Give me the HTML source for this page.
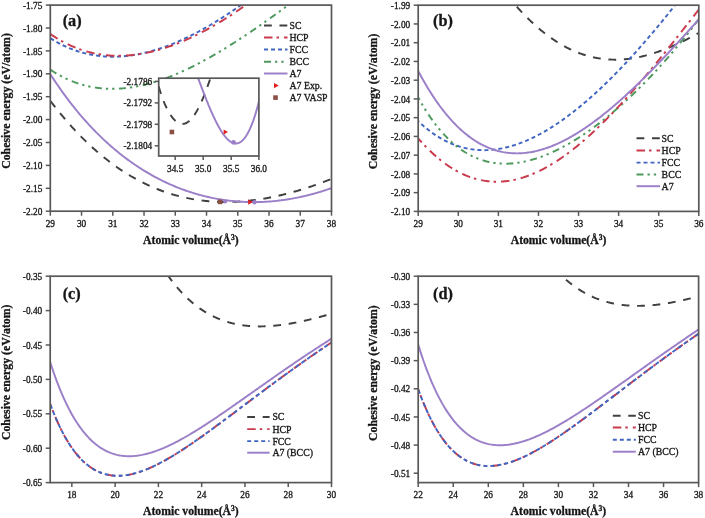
<!DOCTYPE html>
<html><head><meta charset="utf-8"><style>
html,body{margin:0;padding:0;background:#fff;width:705px;height:518px;overflow:hidden}
svg{display:block;will-change:transform;filter:blur(0.3px)}
text{font-family:"Liberation Serif", serif;fill:#161616;stroke:#161616;stroke-width:0.3px}
</style></head><body>
<svg width="705" height="518" viewBox="0 0 705 518">
<rect width="705" height="518" fill="#fff"/>
<clipPath id="clipa"><rect x="50.30" y="5.10" width="281.20" height="206.10"/></clipPath>
<line x1="50.30" y1="211.20" x2="50.30" y2="215.70" stroke="#585858" stroke-width="1.5"/>
<text x="50.30" y="227.00" text-anchor="middle" font-size="9.3">29</text>
<line x1="81.54" y1="211.20" x2="81.54" y2="215.70" stroke="#585858" stroke-width="1.5"/>
<text x="81.54" y="227.00" text-anchor="middle" font-size="9.3">30</text>
<line x1="112.79" y1="211.20" x2="112.79" y2="215.70" stroke="#585858" stroke-width="1.5"/>
<text x="112.79" y="227.00" text-anchor="middle" font-size="9.3">31</text>
<line x1="144.03" y1="211.20" x2="144.03" y2="215.70" stroke="#585858" stroke-width="1.5"/>
<text x="144.03" y="227.00" text-anchor="middle" font-size="9.3">32</text>
<line x1="175.28" y1="211.20" x2="175.28" y2="215.70" stroke="#585858" stroke-width="1.5"/>
<text x="175.28" y="227.00" text-anchor="middle" font-size="9.3">33</text>
<line x1="206.52" y1="211.20" x2="206.52" y2="215.70" stroke="#585858" stroke-width="1.5"/>
<text x="206.52" y="227.00" text-anchor="middle" font-size="9.3">34</text>
<line x1="237.77" y1="211.20" x2="237.77" y2="215.70" stroke="#585858" stroke-width="1.5"/>
<text x="237.77" y="227.00" text-anchor="middle" font-size="9.3">35</text>
<line x1="269.01" y1="211.20" x2="269.01" y2="215.70" stroke="#585858" stroke-width="1.5"/>
<text x="269.01" y="227.00" text-anchor="middle" font-size="9.3">36</text>
<line x1="300.26" y1="211.20" x2="300.26" y2="215.70" stroke="#585858" stroke-width="1.5"/>
<text x="300.26" y="227.00" text-anchor="middle" font-size="9.3">37</text>
<line x1="331.50" y1="211.20" x2="331.50" y2="215.70" stroke="#585858" stroke-width="1.5"/>
<text x="331.50" y="227.00" text-anchor="middle" font-size="9.3">38</text>
<line x1="45.80" y1="5.10" x2="50.30" y2="5.10" stroke="#585858" stroke-width="1.5"/>
<text x="42.30" y="8.70" text-anchor="end" font-size="9.3">-1.75</text>
<line x1="45.80" y1="28.00" x2="50.30" y2="28.00" stroke="#585858" stroke-width="1.5"/>
<text x="42.30" y="31.60" text-anchor="end" font-size="9.3">-1.80</text>
<line x1="45.80" y1="50.90" x2="50.30" y2="50.90" stroke="#585858" stroke-width="1.5"/>
<text x="42.30" y="54.50" text-anchor="end" font-size="9.3">-1.85</text>
<line x1="45.80" y1="73.80" x2="50.30" y2="73.80" stroke="#585858" stroke-width="1.5"/>
<text x="42.30" y="77.40" text-anchor="end" font-size="9.3">-1.90</text>
<line x1="45.80" y1="96.70" x2="50.30" y2="96.70" stroke="#585858" stroke-width="1.5"/>
<text x="42.30" y="100.30" text-anchor="end" font-size="9.3">-1.95</text>
<line x1="45.80" y1="119.60" x2="50.30" y2="119.60" stroke="#585858" stroke-width="1.5"/>
<text x="42.30" y="123.20" text-anchor="end" font-size="9.3">-2.00</text>
<line x1="45.80" y1="142.50" x2="50.30" y2="142.50" stroke="#585858" stroke-width="1.5"/>
<text x="42.30" y="146.10" text-anchor="end" font-size="9.3">-2.05</text>
<line x1="45.80" y1="165.40" x2="50.30" y2="165.40" stroke="#585858" stroke-width="1.5"/>
<text x="42.30" y="169.00" text-anchor="end" font-size="9.3">-2.10</text>
<line x1="45.80" y1="188.30" x2="50.30" y2="188.30" stroke="#585858" stroke-width="1.5"/>
<text x="42.30" y="191.90" text-anchor="end" font-size="9.3">-2.15</text>
<line x1="45.80" y1="211.20" x2="50.30" y2="211.20" stroke="#585858" stroke-width="1.5"/>
<text x="42.30" y="214.80" text-anchor="end" font-size="9.3">-2.20</text>
<path d="M50.50 101.03 L51.79 102.73 L53.08 104.41 L54.38 106.08 L55.67 107.72 L56.96 109.35 L58.25 110.96 L59.55 112.55 L60.84 114.13 L62.13 115.69 L63.42 117.23 L64.71 118.75 L66.01 120.26 L67.30 121.75 L68.59 123.23 L69.88 124.69 L71.18 126.13 L72.47 127.55 L73.76 128.96 L75.05 130.35 L76.34 131.73 L77.64 133.09 L78.93 134.43 L80.22 135.76 L81.51 137.07 L82.81 138.37 L84.10 139.65 L85.39 140.91 L86.68 142.16 L87.97 143.40 L89.27 144.61 L90.56 145.82 L91.85 147.01 L93.14 148.18 L94.44 149.34 L95.73 150.48 L97.02 151.61 L98.31 152.72 L99.61 153.82 L100.90 154.90 L102.19 155.97 L103.48 157.03 L104.77 158.07 L106.07 159.09 L107.36 160.10 L108.65 161.10 L109.94 162.09 L111.24 163.06 L112.53 164.01 L113.82 164.95 L115.11 165.88 L116.40 166.80 L117.70 167.70 L118.99 168.58 L120.28 169.46 L121.57 170.32 L122.87 171.17 L124.16 172.00 L125.45 172.82 L126.74 173.63 L128.03 174.42 L129.33 175.20 L130.62 175.97 L131.91 176.73 L133.20 177.47 L134.50 178.20 L135.79 178.92 L137.08 179.63 L138.37 180.32 L139.66 181.00 L140.96 181.67 L142.25 182.32 L143.54 182.97 L144.83 183.60 L146.13 184.22 L147.42 184.83 L148.71 185.42 L150.00 186.01 L151.29 186.58 L152.59 187.14 L153.88 187.69 L155.17 188.23 L156.46 188.76 L157.76 189.27 L159.05 189.78 L160.34 190.27 L161.63 190.75 L162.92 191.22 L164.22 191.68 L165.51 192.13 L166.80 192.56 L168.09 192.99 L169.39 193.41 L170.68 193.81 L171.97 194.21 L173.26 194.59 L174.55 194.96 L175.85 195.33 L177.14 195.68 L178.43 196.02 L179.72 196.35 L181.02 196.67 L182.31 196.98 L183.60 197.29 L184.89 197.58 L186.18 197.86 L187.48 198.13 L188.77 198.39 L190.06 198.64 L191.35 198.88 L192.65 199.12 L193.94 199.34 L195.23 199.55 L196.52 199.76 L197.82 199.95 L199.11 200.13 L200.40 200.31 L201.69 200.48 L202.98 200.63 L204.28 200.78 L205.57 200.92 L206.86 201.05 L208.15 201.17 L209.45 201.28 L210.74 201.39 L212.03 201.48 L213.32 201.57 L214.61 201.64 L215.91 201.71 L217.20 201.77 L218.49 201.82 L219.78 201.86 L221.08 201.90 L222.37 201.92 L223.66 201.94 L224.95 201.95 L226.24 201.95 L227.54 201.94 L228.83 201.93 L230.12 201.91 L231.41 201.88 L232.71 201.84 L234.00 201.79 L235.29 201.73 L236.58 201.67 L237.87 201.60 L239.17 201.52 L240.46 201.44 L241.75 201.34 L243.04 201.24 L244.34 201.13 L245.63 201.02 L246.92 200.90 L248.21 200.76 L249.50 200.63 L250.80 200.48 L252.09 200.33 L253.38 200.17 L254.67 200.00 L255.97 199.83 L257.26 199.65 L258.55 199.46 L259.84 199.27 L261.13 199.07 L262.43 198.86 L263.72 198.64 L265.01 198.42 L266.30 198.19 L267.60 197.96 L268.89 197.72 L270.18 197.47 L271.47 197.21 L272.76 196.95 L274.06 196.68 L275.35 196.41 L276.64 196.13 L277.93 195.84 L279.23 195.55 L280.52 195.25 L281.81 194.95 L283.10 194.63 L284.39 194.32 L285.69 193.99 L286.98 193.66 L288.27 193.33 L289.56 192.99 L290.86 192.64 L292.15 192.29 L293.44 191.93 L294.73 191.56 L296.03 191.19 L297.32 190.82 L298.61 190.44 L299.90 190.05 L301.19 189.66 L302.49 189.26 L303.78 188.85 L305.07 188.44 L306.36 188.03 L307.66 187.61 L308.95 187.18 L310.24 186.75 L311.53 186.32 L312.82 185.88 L314.12 185.43 L315.41 184.98 L316.70 184.52 L317.99 184.06 L319.29 183.60 L320.58 183.12 L321.87 182.65 L323.16 182.17 L324.45 181.68 L325.75 181.19 L327.04 180.69 L328.33 180.19 L329.62 179.69 L330.92 179.18 L332.21 178.66 L333.50 178.14" fill="none" stroke="#404040" stroke-width="1.95" stroke-dasharray="7.8 7.7" clip-path="url(#clipa)"/>
<path d="M50.50 69.78 L51.79 70.63 L53.08 71.46 L54.38 72.26 L55.67 73.05 L56.96 73.81 L58.25 74.55 L59.55 75.27 L60.84 75.97 L62.13 76.65 L63.42 77.30 L64.71 77.94 L66.01 78.56 L67.30 79.16 L68.59 79.73 L69.88 80.29 L71.18 80.83 L72.47 81.35 L73.76 81.85 L75.05 82.33 L76.34 82.80 L77.64 83.24 L78.93 83.67 L80.22 84.07 L81.51 84.46 L82.81 84.84 L84.10 85.19 L85.39 85.53 L86.68 85.85 L87.97 86.15 L89.27 86.43 L90.56 86.70 L91.85 86.95 L93.14 87.19 L94.44 87.41 L95.73 87.61 L97.02 87.80 L98.31 87.97 L99.61 88.12 L100.90 88.26 L102.19 88.38 L103.48 88.49 L104.77 88.59 L106.07 88.66 L107.36 88.73 L108.65 88.77 L109.94 88.81 L111.24 88.83 L112.53 88.83 L113.82 88.82 L115.11 88.80 L116.40 88.76 L117.70 88.71 L118.99 88.65 L120.28 88.57 L121.57 88.48 L122.87 88.37 L124.16 88.25 L125.45 88.12 L126.74 87.98 L128.03 87.82 L129.33 87.66 L130.62 87.47 L131.91 87.28 L133.20 87.08 L134.50 86.86 L135.79 86.63 L137.08 86.39 L138.37 86.13 L139.66 85.87 L140.96 85.59 L142.25 85.31 L143.54 85.01 L144.83 84.70 L146.13 84.38 L147.42 84.05 L148.71 83.71 L150.00 83.35 L151.29 82.99 L152.59 82.62 L153.88 82.24 L155.17 81.84 L156.46 81.44 L157.76 81.03 L159.05 80.60 L160.34 80.17 L161.63 79.73 L162.92 79.28 L164.22 78.81 L165.51 78.34 L166.80 77.87 L168.09 77.38 L169.39 76.88 L170.68 76.37 L171.97 75.86 L173.26 75.34 L174.55 74.80 L175.85 74.26 L177.14 73.71 L178.43 73.16 L179.72 72.59 L181.02 72.02 L182.31 71.44 L183.60 70.85 L184.89 70.26 L186.18 69.65 L187.48 69.04 L188.77 68.42 L190.06 67.80 L191.35 67.16 L192.65 66.52 L193.94 65.88 L195.23 65.22 L196.52 64.56 L197.82 63.89 L199.11 63.22 L200.40 62.54 L201.69 61.85 L202.98 61.16 L204.28 60.46 L205.57 59.75 L206.86 59.04 L208.15 58.32 L209.45 57.59 L210.74 56.86 L212.03 56.13 L213.32 55.38 L214.61 54.64 L215.91 53.88 L217.20 53.12 L218.49 52.36 L219.78 51.59 L221.08 50.82 L222.37 50.04 L223.66 49.25 L224.95 48.46 L226.24 47.67 L227.54 46.87 L228.83 46.06 L230.12 45.25 L231.41 44.44 L232.71 43.62 L234.00 42.80 L235.29 41.97 L236.58 41.14 L237.87 40.30 L239.17 39.46 L240.46 38.62 L241.75 37.77 L243.04 36.92 L244.34 36.06 L245.63 35.20 L246.92 34.34 L248.21 33.47 L249.50 32.60 L250.80 31.72 L252.09 30.84 L253.38 29.96 L254.67 29.08 L255.97 28.19 L257.26 27.30 L258.55 26.40 L259.84 25.50 L261.13 24.60 L262.43 23.70 L263.72 22.79 L265.01 21.88 L266.30 20.97 L267.60 20.05 L268.89 19.14 L270.18 18.22 L271.47 17.29 L272.76 16.37 L274.06 15.44 L275.35 14.51 L276.64 13.57 L277.93 12.64 L279.23 11.70 L280.52 10.76 L281.81 9.82 L283.10 8.88 L284.39 7.93 L285.69 6.98 L286.98 6.03 L288.27 5.08 L289.56 4.13 L290.86 3.17 L292.15 2.21 L293.44 1.26 L294.73 0.30 L296.03 -0.67 L297.32 -1.63 L298.61 -2.59 L299.90 -3.56 L301.19 -4.53 L302.49 -5.50 L303.78 -6.47 L305.07 -7.44 L306.36 -8.41 L307.66 -9.38 L308.95 -10.36 L310.24 -11.33 L311.53 -12.31 L312.82 -13.29 L314.12 -14.26 L315.41 -15.24 L316.70 -16.22 L317.99 -17.20 L319.29 -18.18 L320.58 -19.17 L321.87 -20.15 L323.16 -21.13 L324.45 -22.11 L325.75 -23.10 L327.04 -24.08 L328.33 -25.07 L329.62 -26.05 L330.92 -27.04 L332.21 -28.02 L333.50 -29.01" fill="none" stroke="#4e9a5e" stroke-width="1.95" stroke-dasharray="7 4 2.3 4 2.3 4.5" clip-path="url(#clipa)"/>
<path d="M50.50 38.30 L51.79 39.11 L53.08 39.90 L54.38 40.67 L55.67 41.42 L56.96 42.15 L58.25 42.86 L59.55 43.55 L60.84 44.22 L62.13 44.87 L63.42 45.50 L64.71 46.11 L66.01 46.70 L67.30 47.28 L68.59 47.83 L69.88 48.37 L71.18 48.89 L72.47 49.39 L73.76 49.87 L75.05 50.34 L76.34 50.78 L77.64 51.21 L78.93 51.63 L80.22 52.02 L81.51 52.40 L82.81 52.76 L84.10 53.10 L85.39 53.43 L86.68 53.74 L87.97 54.04 L89.27 54.31 L90.56 54.58 L91.85 54.82 L93.14 55.05 L94.44 55.27 L95.73 55.47 L97.02 55.65 L98.31 55.82 L99.61 55.97 L100.90 56.11 L102.19 56.24 L103.48 56.35 L104.77 56.44 L106.07 56.52 L107.36 56.59 L108.65 56.64 L109.94 56.68 L111.24 56.70 L112.53 56.71 L113.82 56.71 L115.11 56.69 L116.40 56.66 L117.70 56.62 L118.99 56.56 L120.28 56.49 L121.57 56.41 L122.87 56.31 L124.16 56.20 L125.45 56.08 L126.74 55.95 L128.03 55.80 L129.33 55.64 L130.62 55.47 L131.91 55.29 L133.20 55.09 L134.50 54.88 L135.79 54.66 L137.08 54.43 L138.37 54.19 L139.66 53.94 L140.96 53.67 L142.25 53.39 L143.54 53.11 L144.83 52.81 L146.13 52.50 L147.42 52.17 L148.71 51.84 L150.00 51.50 L151.29 51.15 L152.59 50.78 L153.88 50.41 L155.17 50.02 L156.46 49.63 L157.76 49.22 L159.05 48.80 L160.34 48.38 L161.63 47.94 L162.92 47.50 L164.22 47.04 L165.51 46.57 L166.80 46.10 L168.09 45.62 L169.39 45.12 L170.68 44.62 L171.97 44.10 L173.26 43.58 L174.55 43.05 L175.85 42.51 L177.14 41.96 L178.43 41.40 L179.72 40.83 L181.02 40.26 L182.31 39.67 L183.60 39.08 L184.89 38.48 L186.18 37.87 L187.48 37.25 L188.77 36.62 L190.06 35.98 L191.35 35.34 L192.65 34.69 L193.94 34.03 L195.23 33.36 L196.52 32.68 L197.82 32.00 L199.11 31.31 L200.40 30.61 L201.69 29.90 L202.98 29.18 L204.28 28.46 L205.57 27.73 L206.86 26.99 L208.15 26.25 L209.45 25.49 L210.74 24.73 L212.03 23.97 L213.32 23.19 L214.61 22.41 L215.91 21.62 L217.20 20.83 L218.49 20.02 L219.78 19.21 L221.08 18.40 L222.37 17.58 L223.66 16.75 L224.95 15.91 L226.24 15.07 L227.54 14.22 L228.83 13.36 L230.12 12.50 L231.41 11.63 L232.71 10.75 L234.00 9.87 L235.29 8.99 L236.58 8.09 L237.87 7.19 L239.17 6.29 L240.46 5.37 L241.75 4.45 L243.04 3.53 L244.34 2.60 L245.63 1.66 L246.92 0.72 L248.21 -0.22 L249.50 -1.18 L250.80 -2.14 L252.09 -3.10 L253.38 -4.07 L254.67 -5.05 L255.97 -6.03 L257.26 -7.01 L258.55 -8.01 L259.84 -9.00 L261.13 -10.01 L262.43 -11.01 L263.72 -12.03 L265.01 -13.05 L266.30 -14.07 L267.60 -15.10 L268.89 -16.13 L270.18 -17.17 L271.47 -18.21 L272.76 -19.26 L274.06 -20.32 L275.35 -21.37 L276.64 -22.44 L277.93 -23.51 L279.23 -24.58 L280.52 -25.66 L281.81 -26.74 L283.10 -27.82 L284.39 -28.92 L285.69 -30.01 L286.98 -31.11 L288.27 -32.22 L289.56 -33.33 L290.86 -34.44 L292.15 -35.56 L293.44 -36.68 L294.73 -37.81 L296.03 -38.94 L297.32 -40.08 L298.61 -41.21 L299.90 -42.36 L301.19 -43.51 L302.49 -44.66 L303.78 -45.81 L305.07 -46.98 L306.36 -48.14 L307.66 -49.31 L308.95 -50.48 L310.24 -51.66 L311.53 -52.84 L312.82 -54.02 L314.12 -55.21 L315.41 -56.40 L316.70 -57.59 L317.99 -58.79 L319.29 -60.00 L320.58 -61.20 L321.87 -62.41 L323.16 -63.63 L324.45 -64.84 L325.75 -66.06 L327.04 -67.29 L328.33 -68.52 L329.62 -69.75 L330.92 -70.98 L332.21 -72.22 L333.50 -73.46" fill="none" stroke="#4066c2" stroke-width="1.95" stroke-dasharray="4 3" clip-path="url(#clipa)"/>
<path d="M50.50 34.10 L51.79 34.98 L53.08 35.85 L54.38 36.69 L55.67 37.51 L56.96 38.32 L58.25 39.10 L59.55 39.86 L60.84 40.60 L62.13 41.32 L63.42 42.02 L64.71 42.70 L66.01 43.37 L67.30 44.01 L68.59 44.63 L69.88 45.24 L71.18 45.82 L72.47 46.39 L73.76 46.94 L75.05 47.47 L76.34 47.99 L77.64 48.48 L78.93 48.96 L80.22 49.42 L81.51 49.86 L82.81 50.29 L84.10 50.70 L85.39 51.09 L86.68 51.47 L87.97 51.82 L89.27 52.17 L90.56 52.49 L91.85 52.80 L93.14 53.09 L94.44 53.37 L95.73 53.63 L97.02 53.88 L98.31 54.11 L99.61 54.33 L100.90 54.53 L102.19 54.71 L103.48 54.88 L104.77 55.04 L106.07 55.18 L107.36 55.30 L108.65 55.42 L109.94 55.51 L111.24 55.60 L112.53 55.67 L113.82 55.72 L115.11 55.76 L116.40 55.79 L117.70 55.80 L118.99 55.80 L120.28 55.79 L121.57 55.77 L122.87 55.73 L124.16 55.68 L125.45 55.61 L126.74 55.53 L128.03 55.44 L129.33 55.34 L130.62 55.22 L131.91 55.10 L133.20 54.96 L134.50 54.80 L135.79 54.64 L137.08 54.46 L138.37 54.27 L139.66 54.07 L140.96 53.86 L142.25 53.64 L143.54 53.41 L144.83 53.16 L146.13 52.90 L147.42 52.63 L148.71 52.35 L150.00 52.06 L151.29 51.76 L152.59 51.45 L153.88 51.13 L155.17 50.79 L156.46 50.45 L157.76 50.09 L159.05 49.73 L160.34 49.35 L161.63 48.96 L162.92 48.57 L164.22 48.16 L165.51 47.75 L166.80 47.32 L168.09 46.88 L169.39 46.44 L170.68 45.98 L171.97 45.52 L173.26 45.04 L174.55 44.56 L175.85 44.06 L177.14 43.56 L178.43 43.05 L179.72 42.53 L181.02 42.00 L182.31 41.46 L183.60 40.91 L184.89 40.35 L186.18 39.78 L187.48 39.21 L188.77 38.62 L190.06 38.03 L191.35 37.43 L192.65 36.82 L193.94 36.20 L195.23 35.57 L196.52 34.94 L197.82 34.30 L199.11 33.65 L200.40 32.99 L201.69 32.32 L202.98 31.64 L204.28 30.96 L205.57 30.27 L206.86 29.57 L208.15 28.86 L209.45 28.15 L210.74 27.42 L212.03 26.69 L213.32 25.95 L214.61 25.21 L215.91 24.46 L217.20 23.70 L218.49 22.93 L219.78 22.15 L221.08 21.37 L222.37 20.58 L223.66 19.78 L224.95 18.98 L226.24 18.17 L227.54 17.35 L228.83 16.53 L230.12 15.70 L231.41 14.86 L232.71 14.01 L234.00 13.16 L235.29 12.30 L236.58 11.44 L237.87 10.56 L239.17 9.69 L240.46 8.80 L241.75 7.91 L243.04 7.01 L244.34 6.11 L245.63 5.20 L246.92 4.28 L248.21 3.36 L249.50 2.43 L250.80 1.49 L252.09 0.55 L253.38 -0.40 L254.67 -1.35 L255.97 -2.31 L257.26 -3.28 L258.55 -4.25 L259.84 -5.23 L261.13 -6.21 L262.43 -7.20 L263.72 -8.20 L265.01 -9.20 L266.30 -10.21 L267.60 -11.22 L268.89 -12.24 L270.18 -13.26 L271.47 -14.29 L272.76 -15.33 L274.06 -16.37 L275.35 -17.41 L276.64 -18.47 L277.93 -19.52 L279.23 -20.58 L280.52 -21.65 L281.81 -22.72 L283.10 -23.80 L284.39 -24.89 L285.69 -25.97 L286.98 -27.07 L288.27 -28.17 L289.56 -29.27 L290.86 -30.38 L292.15 -31.49 L293.44 -32.61 L294.73 -33.73 L296.03 -34.86 L297.32 -36.00 L298.61 -37.14 L299.90 -38.28 L301.19 -39.43 L302.49 -40.58 L303.78 -41.74 L305.07 -42.90 L306.36 -44.07 L307.66 -45.24 L308.95 -46.42 L310.24 -47.60 L311.53 -48.78 L312.82 -49.97 L314.12 -51.17 L315.41 -52.37 L316.70 -53.57 L317.99 -54.78 L319.29 -55.99 L320.58 -57.21 L321.87 -58.43 L323.16 -59.66 L324.45 -60.89 L325.75 -62.12 L327.04 -63.36 L328.33 -64.60 L329.62 -65.85 L330.92 -67.10 L332.21 -68.36 L333.50 -69.61" fill="none" stroke="#c93a4c" stroke-width="1.95" stroke-dasharray="8.5 4 2.5 5" clip-path="url(#clipa)"/>
<path d="M50.50 74.41 L51.79 76.41 L53.08 78.39 L54.38 80.34 L55.67 82.27 L56.96 84.18 L58.25 86.07 L59.55 87.93 L60.84 89.77 L62.13 91.59 L63.42 93.38 L64.71 95.15 L66.01 96.91 L67.30 98.64 L68.59 100.35 L69.88 102.04 L71.18 103.70 L72.47 105.35 L73.76 106.98 L75.05 108.59 L76.34 110.18 L77.64 111.75 L78.93 113.30 L80.22 114.83 L81.51 116.34 L82.81 117.84 L84.10 119.31 L85.39 120.77 L86.68 122.21 L87.97 123.63 L89.27 125.04 L90.56 126.43 L91.85 127.80 L93.14 129.15 L94.44 130.49 L95.73 131.81 L97.02 133.11 L98.31 134.40 L99.61 135.67 L100.90 136.92 L102.19 138.16 L103.48 139.39 L104.77 140.60 L106.07 141.79 L107.36 142.97 L108.65 144.13 L109.94 145.28 L111.24 146.41 L112.53 147.53 L113.82 148.63 L115.11 149.72 L116.40 150.80 L117.70 151.86 L118.99 152.91 L120.28 153.94 L121.57 154.96 L122.87 155.97 L124.16 156.96 L125.45 157.94 L126.74 158.90 L128.03 159.86 L129.33 160.80 L130.62 161.73 L131.91 162.64 L133.20 163.54 L134.50 164.43 L135.79 165.31 L137.08 166.17 L138.37 167.03 L139.66 167.87 L140.96 168.69 L142.25 169.51 L143.54 170.31 L144.83 171.11 L146.13 171.89 L147.42 172.66 L148.71 173.41 L150.00 174.16 L151.29 174.90 L152.59 175.62 L153.88 176.33 L155.17 177.03 L156.46 177.72 L157.76 178.40 L159.05 179.07 L160.34 179.73 L161.63 180.37 L162.92 181.01 L164.22 181.64 L165.51 182.25 L166.80 182.86 L168.09 183.45 L169.39 184.03 L170.68 184.61 L171.97 185.17 L173.26 185.72 L174.55 186.27 L175.85 186.80 L177.14 187.32 L178.43 187.84 L179.72 188.34 L181.02 188.83 L182.31 189.32 L183.60 189.79 L184.89 190.25 L186.18 190.71 L187.48 191.15 L188.77 191.59 L190.06 192.02 L191.35 192.43 L192.65 192.84 L193.94 193.24 L195.23 193.63 L196.52 194.01 L197.82 194.38 L199.11 194.74 L200.40 195.09 L201.69 195.43 L202.98 195.77 L204.28 196.09 L205.57 196.41 L206.86 196.72 L208.15 197.01 L209.45 197.30 L210.74 197.58 L212.03 197.86 L213.32 198.12 L214.61 198.37 L215.91 198.62 L217.20 198.86 L218.49 199.09 L219.78 199.31 L221.08 199.52 L222.37 199.72 L223.66 199.91 L224.95 200.10 L226.24 200.28 L227.54 200.45 L228.83 200.61 L230.12 200.76 L231.41 200.90 L232.71 201.04 L234.00 201.17 L235.29 201.28 L236.58 201.40 L237.87 201.50 L239.17 201.59 L240.46 201.68 L241.75 201.76 L243.04 201.83 L244.34 201.89 L245.63 201.94 L246.92 201.99 L248.21 202.03 L249.50 202.06 L250.80 202.08 L252.09 202.09 L253.38 202.10 L254.67 202.09 L255.97 202.08 L257.26 202.07 L258.55 202.04 L259.84 202.01 L261.13 201.96 L262.43 201.91 L263.72 201.86 L265.01 201.79 L266.30 201.72 L267.60 201.64 L268.89 201.55 L270.18 201.45 L271.47 201.35 L272.76 201.23 L274.06 201.11 L275.35 200.99 L276.64 200.85 L277.93 200.71 L279.23 200.56 L280.52 200.40 L281.81 200.23 L283.10 200.06 L284.39 199.88 L285.69 199.69 L286.98 199.49 L288.27 199.29 L289.56 199.07 L290.86 198.85 L292.15 198.63 L293.44 198.39 L294.73 198.15 L296.03 197.90 L297.32 197.64 L298.61 197.38 L299.90 197.10 L301.19 196.82 L302.49 196.53 L303.78 196.24 L305.07 195.94 L306.36 195.63 L307.66 195.31 L308.95 194.98 L310.24 194.65 L311.53 194.31 L312.82 193.96 L314.12 193.60 L315.41 193.24 L316.70 192.87 L317.99 192.49 L319.29 192.11 L320.58 191.71 L321.87 191.31 L323.16 190.91 L324.45 190.49 L325.75 190.07 L327.04 189.64 L328.33 189.20 L329.62 188.76 L330.92 188.30 L332.21 187.84 L333.50 187.38" fill="none" stroke="#9b7fc8" stroke-width="1.95" clip-path="url(#clipa)"/>
<rect x="50.30" y="5.10" width="281.20" height="206.10" fill="none" stroke="#585858" stroke-width="1.7"/>
<rect x="217.8" y="199.6" width="4.6" height="4.6" fill="#8a4f45"/>
<circle cx="225.2" cy="201.5" r="2" fill="#9b7fc8"/>
<path d="M248.2 199.4 L253 202 L248.2 204.8 Z" fill="#dd1f1f"/>
<circle cx="254.5" cy="202.3" r="2.2" fill="#9b7fc8"/>
<text x="62.70" y="26.40" font-size="16.3" font-weight="bold">(a)</text>
<line x1="264.00" y1="25.50" x2="287.50" y2="25.50" stroke="#404040" stroke-width="1.95" stroke-dasharray="7.8 7.7"/>
<text x="289.50" y="28.90" font-size="9.8">SC</text>
<line x1="264.00" y1="37.50" x2="287.50" y2="37.50" stroke="#c93a4c" stroke-width="1.95" stroke-dasharray="8.5 4 2.5 5"/>
<text x="289.50" y="40.90" font-size="9.8">HCP</text>
<line x1="264.00" y1="49.50" x2="287.50" y2="49.50" stroke="#4066c2" stroke-width="1.95" stroke-dasharray="4 3"/>
<text x="289.50" y="52.90" font-size="9.8">FCC</text>
<line x1="264.00" y1="61.80" x2="287.50" y2="61.80" stroke="#4e9a5e" stroke-width="1.95" stroke-dasharray="7 4 2.3 4 2.3 4.5"/>
<text x="289.50" y="65.20" font-size="9.8">BCC</text>
<line x1="264.00" y1="73.50" x2="287.50" y2="73.50" stroke="#9b7fc8" stroke-width="1.95"/>
<text x="289.50" y="76.90" font-size="9.8">A7</text>
<path d="M274 83 L278.8 85.6 L274 88.3 Z" fill="#dd1f1f"/>
<text x="289.5" y="89" font-size="9.8">A7 Exp.</text>
<rect x="273.2" y="95.3" width="4.6" height="4.6" fill="#8a4f45"/>
<text x="289.5" y="101" font-size="9.8">A7 VASP</text>
<text x="190.90" y="244.00" text-anchor="middle" font-size="11.7" font-weight="bold">Atomic volume(&#197;<tspan font-size="7.5" dy="-4.5">3</tspan><tspan dy="4.5">)</tspan></text>
<text transform="translate(9.50 101.00) rotate(-90)" text-anchor="middle" font-size="11.8" font-weight="bold">Cohesive energy (eV/atom)</text>
<rect x="158.70" y="78.20" width="100.20" height="77.80" fill="#fff"/>
<clipPath id="clipi"><rect x="158.70" y="78.20" width="100.20" height="77.80"/></clipPath>
<line x1="175.20" y1="156.00" x2="175.20" y2="160.00" stroke="#585858" stroke-width="1.5"/>
<text x="175.20" y="171.80" text-anchor="middle" font-size="9.3">34.5</text>
<line x1="203.20" y1="156.00" x2="203.20" y2="160.00" stroke="#585858" stroke-width="1.5"/>
<text x="203.20" y="171.80" text-anchor="middle" font-size="9.3">35.0</text>
<line x1="231.20" y1="156.00" x2="231.20" y2="160.00" stroke="#585858" stroke-width="1.5"/>
<text x="231.20" y="171.80" text-anchor="middle" font-size="9.3">35.5</text>
<line x1="258.90" y1="156.00" x2="258.90" y2="160.00" stroke="#585858" stroke-width="1.5"/>
<text x="258.90" y="171.80" text-anchor="middle" font-size="9.3">36.0</text>
<line x1="154.70" y1="81.40" x2="158.70" y2="81.40" stroke="#585858" stroke-width="1.5"/>
<text x="152.20" y="84.60" text-anchor="end" font-size="9.3">-2.1786</text>
<line x1="154.70" y1="102.90" x2="158.70" y2="102.90" stroke="#585858" stroke-width="1.5"/>
<text x="152.20" y="106.10" text-anchor="end" font-size="9.3">-2.1792</text>
<line x1="154.70" y1="124.30" x2="158.70" y2="124.30" stroke="#585858" stroke-width="1.5"/>
<text x="152.20" y="127.50" text-anchor="end" font-size="9.3">-2.1798</text>
<line x1="154.70" y1="145.80" x2="158.70" y2="145.80" stroke="#585858" stroke-width="1.5"/>
<text x="152.20" y="149.00" text-anchor="end" font-size="9.3">-2.1804</text>
<path d="M158.70 86.43 L158.97 87.38 L159.25 88.31 L159.52 89.23 L159.79 90.13 L160.06 91.02 L160.34 91.88 L160.61 92.74 L160.88 93.57 L161.16 94.40 L161.43 95.20 L161.70 95.99 L161.97 96.77 L162.25 97.53 L162.52 98.28 L162.79 99.01 L163.07 99.73 L163.34 100.44 L163.61 101.13 L163.88 101.81 L164.16 102.48 L164.43 103.13 L164.70 103.78 L164.98 104.40 L165.25 105.02 L165.52 105.63 L165.79 106.22 L166.07 106.80 L166.34 107.37 L166.61 107.93 L166.89 108.48 L167.16 109.02 L167.43 109.55 L167.70 110.07 L167.98 110.58 L168.25 111.07 L168.52 111.56 L168.80 112.04 L169.07 112.51 L169.34 112.98 L169.61 113.43 L169.89 113.87 L170.16 114.30 L170.43 114.72 L170.71 115.14 L170.98 115.54 L171.25 115.93 L171.52 116.32 L171.80 116.69 L172.07 117.06 L172.34 117.42 L172.62 117.76 L172.89 118.10 L173.16 118.43 L173.43 118.75 L173.71 119.06 L173.98 119.35 L174.25 119.64 L174.53 119.92 L174.80 120.19 L175.07 120.46 L175.34 120.71 L175.62 120.95 L175.89 121.18 L176.16 121.41 L176.44 121.62 L176.71 121.82 L176.98 122.02 L177.25 122.20 L177.53 122.38 L177.80 122.55 L178.07 122.70 L178.35 122.85 L178.62 122.99 L178.89 123.12 L179.16 123.24 L179.44 123.34 L179.71 123.44 L179.98 123.53 L180.26 123.62 L180.53 123.69 L180.80 123.75 L181.07 123.80 L181.35 123.84 L181.62 123.88 L181.89 123.90 L182.17 123.92 L182.44 123.92 L182.71 123.92 L182.98 123.90 L183.26 123.88 L183.53 123.85 L183.80 123.80 L184.08 123.75 L184.35 123.69 L184.62 123.62 L184.89 123.54 L185.17 123.45 L185.44 123.35 L185.71 123.24 L185.99 123.12 L186.26 123.00 L186.53 122.86 L186.81 122.71 L187.08 122.56 L187.35 122.39 L187.62 122.22 L187.90 122.03 L188.17 121.84 L188.44 121.63 L188.72 121.42 L188.99 121.20 L189.26 120.97 L189.53 120.73 L189.81 120.48 L190.08 120.22 L190.35 119.95 L190.63 119.67 L190.90 119.39 L191.17 119.09 L191.44 118.79 L191.72 118.47 L191.99 118.15 L192.26 117.82 L192.54 117.48 L192.81 117.13 L193.08 116.78 L193.35 116.41 L193.63 116.03 L193.90 115.65 L194.17 115.26 L194.45 114.86 L194.72 114.45 L194.99 114.03 L195.26 113.61 L195.54 113.17 L195.81 112.73 L196.08 112.28 L196.36 111.82 L196.63 111.35 L196.90 110.88 L197.17 110.39 L197.45 109.90 L197.72 109.40 L197.99 108.89 L198.27 108.38 L198.54 107.85 L198.81 107.32 L199.08 106.78 L199.36 106.23 L199.63 105.68 L199.90 105.11 L200.18 104.54 L200.45 103.96 L200.72 103.38 L200.99 102.78 L201.27 102.18 L201.54 101.57 L201.81 100.96 L202.09 100.33 L202.36 99.70 L202.63 99.06 L202.90 98.42 L203.18 97.76 L203.45 97.10 L203.72 96.44 L204.00 95.76 L204.27 95.08 L204.54 94.39 L204.81 93.69 L205.09 92.99 L205.36 92.28 L205.63 91.57 L205.91 90.85 L206.18 90.12 L206.45 89.39 L206.72 88.65 L207.00 87.91 L207.27 87.16 L207.54 86.41 L207.82 85.66 L208.09 84.90 L208.36 84.13 L208.63 83.37 L208.91 82.60 L209.18 81.83 L209.45 81.05 L209.73 80.27 L210.00 79.50 L210.27 78.71 L210.54 77.93 L210.82 77.15 L211.09 76.36 L211.36 75.57 L211.64 74.79 L211.91 74.00 L212.18 73.21 L212.45 72.43 L212.73 71.64 L213.00 70.85" fill="none" stroke="#404040" stroke-width="1.95" stroke-dasharray="7.8 7.7" clip-path="url(#clipi)"/>
<path d="M196.00 72.37 L196.32 73.25 L196.64 74.12 L196.96 74.99 L197.28 75.86 L197.61 76.73 L197.93 77.60 L198.25 78.47 L198.57 79.33 L198.89 80.20 L199.21 81.06 L199.53 81.92 L199.85 82.78 L200.17 83.64 L200.50 84.50 L200.82 85.35 L201.14 86.21 L201.46 87.06 L201.78 87.91 L202.10 88.75 L202.42 89.60 L202.74 90.44 L203.06 91.28 L203.39 92.11 L203.71 92.95 L204.03 93.78 L204.35 94.61 L204.67 95.43 L204.99 96.25 L205.31 97.07 L205.63 97.88 L205.95 98.69 L206.28 99.50 L206.60 100.30 L206.92 101.10 L207.24 101.89 L207.56 102.68 L207.88 103.47 L208.20 104.25 L208.52 105.03 L208.84 105.80 L209.17 106.57 L209.49 107.33 L209.81 108.09 L210.13 108.84 L210.45 109.59 L210.77 110.34 L211.09 111.07 L211.41 111.81 L211.73 112.53 L212.06 113.25 L212.38 113.97 L212.70 114.68 L213.02 115.38 L213.34 116.08 L213.66 116.77 L213.98 117.46 L214.30 118.13 L214.62 118.81 L214.95 119.47 L215.27 120.13 L215.59 120.78 L215.91 121.43 L216.23 122.07 L216.55 122.70 L216.87 123.32 L217.19 123.94 L217.51 124.55 L217.84 125.15 L218.16 125.74 L218.48 126.33 L218.80 126.91 L219.12 127.48 L219.44 128.04 L219.76 128.59 L220.08 129.14 L220.40 129.67 L220.73 130.20 L221.05 130.72 L221.37 131.23 L221.69 131.74 L222.01 132.23 L222.33 132.71 L222.65 133.19 L222.97 133.65 L223.29 134.11 L223.62 134.56 L223.94 135.00 L224.26 135.42 L224.58 135.84 L224.90 136.25 L225.22 136.65 L225.54 137.04 L225.86 137.41 L226.18 137.78 L226.51 138.14 L226.83 138.48 L227.15 138.82 L227.47 139.14 L227.79 139.46 L228.11 139.76 L228.43 140.05 L228.75 140.34 L229.07 140.60 L229.39 140.86 L229.72 141.11 L230.04 141.34 L230.36 141.57 L230.68 141.78 L231.00 141.98 L231.32 142.17 L231.64 142.34 L231.96 142.51 L232.28 142.66 L232.61 142.80 L232.93 142.92 L233.25 143.03 L233.57 143.14 L233.89 143.22 L234.21 143.30 L234.53 143.36 L234.85 143.41 L235.17 143.44 L235.50 143.46 L235.82 143.47 L236.14 143.47 L236.46 143.45 L236.78 143.41 L237.10 143.37 L237.42 143.31 L237.74 143.23 L238.06 143.14 L238.39 143.04 L238.71 142.92 L239.03 142.79 L239.35 142.64 L239.67 142.47 L239.99 142.30 L240.31 142.11 L240.63 141.90 L240.95 141.67 L241.28 141.44 L241.60 141.18 L241.92 140.91 L242.24 140.63 L242.56 140.33 L242.88 140.01 L243.20 139.68 L243.52 139.33 L243.84 138.97 L244.17 138.59 L244.49 138.19 L244.81 137.77 L245.13 137.34 L245.45 136.90 L245.77 136.43 L246.09 135.95 L246.41 135.45 L246.73 134.94 L247.06 134.41 L247.38 133.86 L247.70 133.29 L248.02 132.70 L248.34 132.10 L248.66 131.48 L248.98 130.84 L249.30 130.19 L249.62 129.51 L249.95 128.82 L250.27 128.11 L250.59 127.38 L250.91 126.63 L251.23 125.87 L251.55 125.08 L251.87 124.28 L252.19 123.45 L252.51 122.61 L252.84 121.75 L253.16 120.87 L253.48 119.97 L253.80 119.05 L254.12 118.11 L254.44 117.15 L254.76 116.18 L255.08 115.18 L255.40 114.16 L255.73 113.12 L256.05 112.06 L256.37 110.98 L256.69 109.88 L257.01 108.76 L257.33 107.62 L257.65 106.46 L257.97 105.28 L258.29 104.08 L258.62 102.85 L258.94 101.61 L259.26 100.34 L259.58 99.05 L259.90 97.74" fill="none" stroke="#9b7fc8" stroke-width="1.95" clip-path="url(#clipi)"/>
<rect x="169.6" y="129.7" width="4.6" height="4.6" fill="#8a4f45"/>
<path d="M223.6 129.5 L228 132 L223.6 134.5 Z" fill="#dd1f1f"/>
<circle cx="233.5" cy="142.3" r="2.4" fill="#9b7fc8"/>
<rect x="158.70" y="78.20" width="100.20" height="77.80" fill="none" stroke="#585858" stroke-width="1.7"/>
<clipPath id="clipb"><rect x="418.20" y="5.20" width="280.60" height="206.20"/></clipPath>
<line x1="418.20" y1="211.40" x2="418.20" y2="215.90" stroke="#585858" stroke-width="1.5"/>
<text x="418.20" y="227.20" text-anchor="middle" font-size="9.3">29</text>
<line x1="458.29" y1="211.40" x2="458.29" y2="215.90" stroke="#585858" stroke-width="1.5"/>
<text x="458.29" y="227.20" text-anchor="middle" font-size="9.3">30</text>
<line x1="498.37" y1="211.40" x2="498.37" y2="215.90" stroke="#585858" stroke-width="1.5"/>
<text x="498.37" y="227.20" text-anchor="middle" font-size="9.3">31</text>
<line x1="538.46" y1="211.40" x2="538.46" y2="215.90" stroke="#585858" stroke-width="1.5"/>
<text x="538.46" y="227.20" text-anchor="middle" font-size="9.3">32</text>
<line x1="578.54" y1="211.40" x2="578.54" y2="215.90" stroke="#585858" stroke-width="1.5"/>
<text x="578.54" y="227.20" text-anchor="middle" font-size="9.3">33</text>
<line x1="618.63" y1="211.40" x2="618.63" y2="215.90" stroke="#585858" stroke-width="1.5"/>
<text x="618.63" y="227.20" text-anchor="middle" font-size="9.3">34</text>
<line x1="658.71" y1="211.40" x2="658.71" y2="215.90" stroke="#585858" stroke-width="1.5"/>
<text x="658.71" y="227.20" text-anchor="middle" font-size="9.3">35</text>
<line x1="698.80" y1="211.40" x2="698.80" y2="215.90" stroke="#585858" stroke-width="1.5"/>
<text x="698.80" y="227.20" text-anchor="middle" font-size="9.3">36</text>
<line x1="413.70" y1="5.20" x2="418.20" y2="5.20" stroke="#585858" stroke-width="1.5"/>
<text x="410.20" y="8.80" text-anchor="end" font-size="9.3">-1.99</text>
<line x1="413.70" y1="23.95" x2="418.20" y2="23.95" stroke="#585858" stroke-width="1.5"/>
<text x="410.20" y="27.55" text-anchor="end" font-size="9.3">-2.00</text>
<line x1="413.70" y1="42.69" x2="418.20" y2="42.69" stroke="#585858" stroke-width="1.5"/>
<text x="410.20" y="46.29" text-anchor="end" font-size="9.3">-2.01</text>
<line x1="413.70" y1="61.44" x2="418.20" y2="61.44" stroke="#585858" stroke-width="1.5"/>
<text x="410.20" y="65.04" text-anchor="end" font-size="9.3">-2.02</text>
<line x1="413.70" y1="80.18" x2="418.20" y2="80.18" stroke="#585858" stroke-width="1.5"/>
<text x="410.20" y="83.78" text-anchor="end" font-size="9.3">-2.03</text>
<line x1="413.70" y1="98.93" x2="418.20" y2="98.93" stroke="#585858" stroke-width="1.5"/>
<text x="410.20" y="102.53" text-anchor="end" font-size="9.3">-2.04</text>
<line x1="413.70" y1="117.67" x2="418.20" y2="117.67" stroke="#585858" stroke-width="1.5"/>
<text x="410.20" y="121.27" text-anchor="end" font-size="9.3">-2.05</text>
<line x1="413.70" y1="136.42" x2="418.20" y2="136.42" stroke="#585858" stroke-width="1.5"/>
<text x="410.20" y="140.02" text-anchor="end" font-size="9.3">-2.06</text>
<line x1="413.70" y1="155.16" x2="418.20" y2="155.16" stroke="#585858" stroke-width="1.5"/>
<text x="410.20" y="158.76" text-anchor="end" font-size="9.3">-2.07</text>
<line x1="413.70" y1="173.91" x2="418.20" y2="173.91" stroke="#585858" stroke-width="1.5"/>
<text x="410.20" y="177.51" text-anchor="end" font-size="9.3">-2.08</text>
<line x1="413.70" y1="192.65" x2="418.20" y2="192.65" stroke="#585858" stroke-width="1.5"/>
<text x="410.20" y="196.25" text-anchor="end" font-size="9.3">-2.09</text>
<line x1="413.70" y1="211.40" x2="418.20" y2="211.40" stroke="#585858" stroke-width="1.5"/>
<text x="410.20" y="215.00" text-anchor="end" font-size="9.3">-2.10</text>
<path d="M516.80 6.72 L517.64 7.65 L518.48 8.58 L519.32 9.50 L520.16 10.41 L521.00 11.31 L521.84 12.20 L522.68 13.08 L523.52 13.96 L524.36 14.82 L525.20 15.68 L526.04 16.53 L526.88 17.38 L527.72 18.21 L528.56 19.03 L529.40 19.85 L530.24 20.66 L531.08 21.46 L531.92 22.25 L532.76 23.03 L533.60 23.80 L534.44 24.57 L535.28 25.32 L536.12 26.07 L536.96 26.81 L537.80 27.54 L538.64 28.26 L539.48 28.98 L540.33 29.68 L541.17 30.38 L542.01 31.07 L542.85 31.75 L543.69 32.42 L544.53 33.08 L545.37 33.74 L546.21 34.38 L547.05 35.02 L547.89 35.65 L548.73 36.27 L549.57 36.88 L550.41 37.48 L551.25 38.08 L552.09 38.66 L552.93 39.24 L553.77 39.81 L554.61 40.37 L555.45 40.92 L556.29 41.47 L557.13 42.00 L557.97 42.53 L558.81 43.05 L559.65 43.56 L560.49 44.06 L561.33 44.55 L562.17 45.04 L563.01 45.51 L563.85 45.98 L564.69 46.44 L565.53 46.89 L566.37 47.34 L567.21 47.77 L568.05 48.20 L568.89 48.62 L569.73 49.03 L570.57 49.43 L571.41 49.82 L572.25 50.21 L573.09 50.59 L573.93 50.96 L574.77 51.32 L575.61 51.67 L576.45 52.02 L577.29 52.36 L578.13 52.69 L578.97 53.01 L579.81 53.32 L580.65 53.63 L581.49 53.93 L582.33 54.22 L583.17 54.50 L584.01 54.77 L584.85 55.04 L585.69 55.30 L586.54 55.55 L587.38 55.79 L588.22 56.03 L589.06 56.25 L589.90 56.47 L590.74 56.69 L591.58 56.89 L592.42 57.09 L593.26 57.28 L594.10 57.46 L594.94 57.64 L595.78 57.80 L596.62 57.96 L597.46 58.12 L598.30 58.26 L599.14 58.40 L599.98 58.53 L600.82 58.65 L601.66 58.77 L602.50 58.88 L603.34 58.98 L604.18 59.07 L605.02 59.16 L605.86 59.24 L606.70 59.31 L607.54 59.38 L608.38 59.44 L609.22 59.49 L610.06 59.54 L610.90 59.57 L611.74 59.61 L612.58 59.63 L613.42 59.65 L614.26 59.66 L615.10 59.66 L615.94 59.66 L616.78 59.65 L617.62 59.64 L618.46 59.61 L619.30 59.59 L620.14 59.55 L620.98 59.51 L621.82 59.46 L622.66 59.41 L623.50 59.34 L624.34 59.28 L625.18 59.20 L626.02 59.12 L626.86 59.04 L627.70 58.95 L628.54 58.85 L629.38 58.74 L630.22 58.63 L631.06 58.52 L631.91 58.39 L632.75 58.26 L633.59 58.13 L634.43 57.99 L635.27 57.84 L636.11 57.69 L636.95 57.53 L637.79 57.37 L638.63 57.20 L639.47 57.03 L640.31 56.85 L641.15 56.66 L641.99 56.47 L642.83 56.27 L643.67 56.07 L644.51 55.86 L645.35 55.65 L646.19 55.43 L647.03 55.21 L647.87 54.98 L648.71 54.74 L649.55 54.50 L650.39 54.26 L651.23 54.01 L652.07 53.76 L652.91 53.50 L653.75 53.23 L654.59 52.96 L655.43 52.69 L656.27 52.41 L657.11 52.13 L657.95 51.84 L658.79 51.54 L659.63 51.25 L660.47 50.94 L661.31 50.64 L662.15 50.33 L662.99 50.01 L663.83 49.69 L664.67 49.36 L665.51 49.03 L666.35 48.70 L667.19 48.36 L668.03 48.02 L668.87 47.68 L669.71 47.32 L670.55 46.97 L671.39 46.61 L672.23 46.25 L673.07 45.88 L673.91 45.51 L674.75 45.14 L675.59 44.76 L676.43 44.38 L677.27 43.99 L678.12 43.60 L678.96 43.21 L679.80 42.81 L680.64 42.41 L681.48 42.01 L682.32 41.60 L683.16 41.19 L684.00 40.78 L684.84 40.36 L685.68 39.94 L686.52 39.51 L687.36 39.09 L688.20 38.66 L689.04 38.22 L689.88 37.79 L690.72 37.35 L691.56 36.90 L692.40 36.46 L693.24 36.01 L694.08 35.56 L694.92 35.10 L695.76 34.65 L696.60 34.19 L697.44 33.72 L698.28 33.26 L699.12 32.79 L699.96 32.32 L700.80 31.85" fill="none" stroke="#404040" stroke-width="1.95" stroke-dasharray="7.8 7.7" clip-path="url(#clipb)"/>
<path d="M416.20 119.21 L417.50 120.48 L418.80 121.72 L420.10 122.93 L421.40 124.12 L422.70 125.27 L424.00 126.39 L425.30 127.48 L426.60 128.55 L427.90 129.58 L429.20 130.59 L430.49 131.57 L431.79 132.52 L433.09 133.44 L434.39 134.34 L435.69 135.21 L436.99 136.05 L438.29 136.86 L439.59 137.65 L440.89 138.41 L442.19 139.14 L443.49 139.85 L444.79 140.54 L446.09 141.19 L447.39 141.83 L448.69 142.43 L449.99 143.02 L451.29 143.58 L452.59 144.11 L453.89 144.62 L455.19 145.11 L456.49 145.57 L457.79 146.01 L459.08 146.42 L460.38 146.82 L461.68 147.19 L462.98 147.53 L464.28 147.86 L465.58 148.16 L466.88 148.44 L468.18 148.70 L469.48 148.94 L470.78 149.15 L472.08 149.35 L473.38 149.52 L474.68 149.67 L475.98 149.81 L477.28 149.92 L478.58 150.01 L479.88 150.08 L481.18 150.13 L482.48 150.16 L483.78 150.17 L485.08 150.16 L486.38 150.13 L487.67 150.09 L488.97 150.02 L490.27 149.94 L491.57 149.83 L492.87 149.71 L494.17 149.57 L495.47 149.41 L496.77 149.23 L498.07 149.04 L499.37 148.83 L500.67 148.60 L501.97 148.35 L503.27 148.09 L504.57 147.81 L505.87 147.51 L507.17 147.19 L508.47 146.86 L509.77 146.51 L511.07 146.15 L512.37 145.77 L513.67 145.37 L514.97 144.96 L516.26 144.53 L517.56 144.08 L518.86 143.62 L520.16 143.15 L521.46 142.65 L522.76 142.15 L524.06 141.63 L525.36 141.09 L526.66 140.54 L527.96 139.97 L529.26 139.39 L530.56 138.80 L531.86 138.19 L533.16 137.57 L534.46 136.93 L535.76 136.28 L537.06 135.61 L538.36 134.94 L539.66 134.24 L540.96 133.54 L542.26 132.82 L543.56 132.09 L544.85 131.34 L546.15 130.58 L547.45 129.81 L548.75 129.03 L550.05 128.23 L551.35 127.42 L552.65 126.60 L553.95 125.76 L555.25 124.92 L556.55 124.06 L557.85 123.19 L559.15 122.30 L560.45 121.41 L561.75 120.50 L563.05 119.58 L564.35 118.65 L565.65 117.71 L566.95 116.76 L568.25 115.79 L569.55 114.82 L570.85 113.83 L572.15 112.83 L573.44 111.82 L574.74 110.80 L576.04 109.77 L577.34 108.73 L578.64 107.68 L579.94 106.62 L581.24 105.54 L582.54 104.46 L583.84 103.37 L585.14 102.26 L586.44 101.15 L587.74 100.02 L589.04 98.89 L590.34 97.75 L591.64 96.59 L592.94 95.43 L594.24 94.26 L595.54 93.07 L596.84 91.88 L598.14 90.68 L599.44 89.47 L600.74 88.25 L602.03 87.02 L603.33 85.78 L604.63 84.53 L605.93 83.28 L607.23 82.01 L608.53 80.74 L609.83 79.45 L611.13 78.16 L612.43 76.86 L613.73 75.55 L615.03 74.23 L616.33 72.91 L617.63 71.57 L618.93 70.23 L620.23 68.88 L621.53 67.52 L622.83 66.15 L624.13 64.78 L625.43 63.40 L626.73 62.01 L628.03 60.61 L629.33 59.20 L630.62 57.78 L631.92 56.36 L633.22 54.93 L634.52 53.50 L635.82 52.05 L637.12 50.60 L638.42 49.14 L639.72 47.67 L641.02 46.20 L642.32 44.71 L643.62 43.23 L644.92 41.73 L646.22 40.23 L647.52 38.72 L648.82 37.20 L650.12 35.67 L651.42 34.14 L652.72 32.61 L654.02 31.06 L655.32 29.51 L656.62 27.95 L657.92 26.39 L659.21 24.82 L660.51 23.24 L661.81 21.65 L663.11 20.06 L664.41 18.47 L665.71 16.86 L667.01 15.25 L668.31 13.64 L669.61 12.01 L670.91 10.39 L672.21 8.75 L673.51 7.11 L674.81 5.46 L676.11 3.81 L677.41 2.15 L678.71 0.49 L680.01 -1.18 L681.31 -2.86 L682.61 -4.54 L683.91 -6.23 L685.21 -7.92 L686.51 -9.62 L687.80 -11.32 L689.10 -13.03 L690.40 -14.75 L691.70 -16.47 L693.00 -18.20 L694.30 -19.93 L695.60 -21.67 L696.90 -23.41 L698.20 -25.16 L699.50 -26.91 L700.80 -28.67" fill="none" stroke="#4066c2" stroke-width="1.95" stroke-dasharray="4 3" clip-path="url(#clipb)"/>
<path d="M416.20 93.78 L417.50 96.21 L418.80 98.58 L420.10 100.90 L421.40 103.16 L422.70 105.37 L424.00 107.52 L425.30 109.62 L426.60 111.67 L427.90 113.67 L429.20 115.62 L430.49 117.52 L431.79 119.37 L433.09 121.17 L434.39 122.92 L435.69 124.63 L436.99 126.29 L438.29 127.90 L439.59 129.48 L440.89 131.00 L442.19 132.49 L443.49 133.93 L444.79 135.33 L446.09 136.69 L447.39 138.00 L448.69 139.28 L449.99 140.52 L451.29 141.72 L452.59 142.88 L453.89 144.00 L455.19 145.09 L456.49 146.14 L457.79 147.15 L459.08 148.13 L460.38 149.07 L461.68 149.98 L462.98 150.86 L464.28 151.70 L465.58 152.51 L466.88 153.28 L468.18 154.03 L469.48 154.74 L470.78 155.42 L472.08 156.07 L473.38 156.70 L474.68 157.29 L475.98 157.85 L477.28 158.39 L478.58 158.89 L479.88 159.37 L481.18 159.82 L482.48 160.25 L483.78 160.65 L485.08 161.02 L486.38 161.36 L487.67 161.68 L488.97 161.98 L490.27 162.25 L491.57 162.50 L492.87 162.72 L494.17 162.92 L495.47 163.09 L496.77 163.25 L498.07 163.38 L499.37 163.48 L500.67 163.57 L501.97 163.64 L503.27 163.68 L504.57 163.70 L505.87 163.70 L507.17 163.68 L508.47 163.64 L509.77 163.58 L511.07 163.50 L512.37 163.41 L513.67 163.29 L514.97 163.15 L516.26 163.00 L517.56 162.83 L518.86 162.64 L520.16 162.43 L521.46 162.20 L522.76 161.96 L524.06 161.70 L525.36 161.42 L526.66 161.13 L527.96 160.82 L529.26 160.49 L530.56 160.15 L531.86 159.79 L533.16 159.41 L534.46 159.02 L535.76 158.62 L537.06 158.20 L538.36 157.76 L539.66 157.31 L540.96 156.85 L542.26 156.37 L543.56 155.88 L544.85 155.37 L546.15 154.85 L547.45 154.32 L548.75 153.77 L550.05 153.21 L551.35 152.64 L552.65 152.05 L553.95 151.45 L555.25 150.83 L556.55 150.21 L557.85 149.57 L559.15 148.92 L560.45 148.26 L561.75 147.58 L563.05 146.89 L564.35 146.19 L565.65 145.48 L566.95 144.76 L568.25 144.02 L569.55 143.28 L570.85 142.52 L572.15 141.75 L573.44 140.97 L574.74 140.18 L576.04 139.37 L577.34 138.56 L578.64 137.74 L579.94 136.90 L581.24 136.05 L582.54 135.20 L583.84 134.33 L585.14 133.45 L586.44 132.56 L587.74 131.66 L589.04 130.75 L590.34 129.83 L591.64 128.90 L592.94 127.96 L594.24 127.01 L595.54 126.05 L596.84 125.08 L598.14 124.10 L599.44 123.11 L600.74 122.11 L602.03 121.10 L603.33 120.08 L604.63 119.06 L605.93 118.02 L607.23 116.97 L608.53 115.91 L609.83 114.84 L611.13 113.76 L612.43 112.68 L613.73 111.58 L615.03 110.48 L616.33 109.36 L617.63 108.23 L618.93 107.10 L620.23 105.96 L621.53 104.80 L622.83 103.64 L624.13 102.47 L625.43 101.29 L626.73 100.10 L628.03 98.90 L629.33 97.69 L630.62 96.47 L631.92 95.24 L633.22 94.01 L634.52 92.76 L635.82 91.51 L637.12 90.24 L638.42 88.97 L639.72 87.68 L641.02 86.39 L642.32 85.09 L643.62 83.78 L644.92 82.46 L646.22 81.13 L647.52 79.79 L648.82 78.44 L650.12 77.08 L651.42 75.72 L652.72 74.34 L654.02 72.95 L655.32 71.56 L656.62 70.15 L657.92 68.74 L659.21 67.32 L660.51 65.88 L661.81 64.44 L663.11 62.99 L664.41 61.53 L665.71 60.06 L667.01 58.58 L668.31 57.09 L669.61 55.59 L670.91 54.08 L672.21 52.56 L673.51 51.03 L674.81 49.49 L676.11 47.94 L677.41 46.38 L678.71 44.81 L680.01 43.24 L681.31 41.65 L682.61 40.05 L683.91 38.44 L685.21 36.82 L686.51 35.20 L687.80 33.56 L689.10 31.91 L690.40 30.25 L691.70 28.59 L693.00 26.91 L694.30 25.22 L695.60 23.52 L696.90 21.81 L698.20 20.09 L699.50 18.36 L700.80 16.62" fill="none" stroke="#4e9a5e" stroke-width="1.95" stroke-dasharray="7 4 2.3 4 2.3 4.5" clip-path="url(#clipb)"/>
<path d="M416.20 136.05 L417.50 137.57 L418.80 139.07 L420.10 140.54 L421.40 141.98 L422.70 143.40 L424.00 144.78 L425.30 146.15 L426.60 147.48 L427.90 148.79 L429.20 150.07 L430.49 151.32 L431.79 152.54 L433.09 153.74 L434.39 154.92 L435.69 156.06 L436.99 157.18 L438.29 158.28 L439.59 159.34 L440.89 160.39 L442.19 161.40 L443.49 162.39 L444.79 163.35 L446.09 164.29 L447.39 165.20 L448.69 166.09 L449.99 166.95 L451.29 167.78 L452.59 168.59 L453.89 169.37 L455.19 170.13 L456.49 170.86 L457.79 171.57 L459.08 172.26 L460.38 172.91 L461.68 173.55 L462.98 174.16 L464.28 174.74 L465.58 175.30 L466.88 175.84 L468.18 176.35 L469.48 176.83 L470.78 177.30 L472.08 177.74 L473.38 178.15 L474.68 178.55 L475.98 178.91 L477.28 179.26 L478.58 179.58 L479.88 179.88 L481.18 180.16 L482.48 180.41 L483.78 180.64 L485.08 180.85 L486.38 181.03 L487.67 181.19 L488.97 181.33 L490.27 181.45 L491.57 181.55 L492.87 181.62 L494.17 181.68 L495.47 181.71 L496.77 181.71 L498.07 181.70 L499.37 181.67 L500.67 181.61 L501.97 181.54 L503.27 181.44 L504.57 181.32 L505.87 181.19 L507.17 181.03 L508.47 180.85 L509.77 180.65 L511.07 180.43 L512.37 180.19 L513.67 179.93 L514.97 179.66 L516.26 179.36 L517.56 179.04 L518.86 178.71 L520.16 178.35 L521.46 177.98 L522.76 177.58 L524.06 177.17 L525.36 176.74 L526.66 176.29 L527.96 175.82 L529.26 175.34 L530.56 174.83 L531.86 174.31 L533.16 173.77 L534.46 173.22 L535.76 172.64 L537.06 172.05 L538.36 171.45 L539.66 170.82 L540.96 170.18 L542.26 169.52 L543.56 168.84 L544.85 168.15 L546.15 167.44 L547.45 166.72 L548.75 165.98 L550.05 165.22 L551.35 164.45 L552.65 163.67 L553.95 162.86 L555.25 162.05 L556.55 161.21 L557.85 160.36 L559.15 159.50 L560.45 158.62 L561.75 157.73 L563.05 156.82 L564.35 155.90 L565.65 154.97 L566.95 154.02 L568.25 153.06 L569.55 152.08 L570.85 151.09 L572.15 150.09 L573.44 149.07 L574.74 148.04 L576.04 147.00 L577.34 145.94 L578.64 144.87 L579.94 143.79 L581.24 142.70 L582.54 141.59 L583.84 140.47 L585.14 139.34 L586.44 138.20 L587.74 137.05 L589.04 135.88 L590.34 134.71 L591.64 133.52 L592.94 132.32 L594.24 131.11 L595.54 129.89 L596.84 128.66 L598.14 127.41 L599.44 126.16 L600.74 124.90 L602.03 123.62 L603.33 122.34 L604.63 121.05 L605.93 119.74 L607.23 118.43 L608.53 117.11 L609.83 115.78 L611.13 114.43 L612.43 113.08 L613.73 111.73 L615.03 110.36 L616.33 108.98 L617.63 107.60 L618.93 106.20 L620.23 104.80 L621.53 103.39 L622.83 101.97 L624.13 100.54 L625.43 99.11 L626.73 97.67 L628.03 96.22 L629.33 94.76 L630.62 93.30 L631.92 91.83 L633.22 90.35 L634.52 88.87 L635.82 87.37 L637.12 85.88 L638.42 84.37 L639.72 82.86 L641.02 81.34 L642.32 79.82 L643.62 78.29 L644.92 76.76 L646.22 75.22 L647.52 73.67 L648.82 72.12 L650.12 70.56 L651.42 69.00 L652.72 67.43 L654.02 65.86 L655.32 64.28 L656.62 62.70 L657.92 61.11 L659.21 59.52 L660.51 57.93 L661.81 56.33 L663.11 54.73 L664.41 53.12 L665.71 51.51 L667.01 49.89 L668.31 48.27 L669.61 46.65 L670.91 45.03 L672.21 43.40 L673.51 41.77 L674.81 40.13 L676.11 38.49 L677.41 36.85 L678.71 35.21 L680.01 33.56 L681.31 31.92 L682.61 30.27 L683.91 28.61 L685.21 26.96 L686.51 25.30 L687.80 23.64 L689.10 21.98 L690.40 20.32 L691.70 18.66 L693.00 16.99 L694.30 15.33 L695.60 13.66 L696.90 11.99 L698.20 10.32 L699.50 8.65 L700.80 6.98" fill="none" stroke="#c93a4c" stroke-width="1.95" stroke-dasharray="8.5 4 2.5 5" clip-path="url(#clipb)"/>
<path d="M416.20 67.15 L417.50 69.66 L418.80 72.13 L420.10 74.55 L421.40 76.92 L422.70 79.26 L424.00 81.54 L425.30 83.79 L426.60 85.99 L427.90 88.15 L429.20 90.26 L430.49 92.34 L431.79 94.37 L433.09 96.36 L434.39 98.31 L435.69 100.22 L436.99 102.09 L438.29 103.92 L439.59 105.72 L440.89 107.47 L442.19 109.18 L443.49 110.86 L444.79 112.49 L446.09 114.09 L447.39 115.66 L448.69 117.18 L449.99 118.67 L451.29 120.12 L452.59 121.54 L453.89 122.92 L455.19 124.27 L456.49 125.58 L457.79 126.86 L459.08 128.10 L460.38 129.31 L461.68 130.49 L462.98 131.63 L464.28 132.74 L465.58 133.81 L466.88 134.86 L468.18 135.87 L469.48 136.85 L470.78 137.80 L472.08 138.71 L473.38 139.60 L474.68 140.46 L475.98 141.28 L477.28 142.08 L478.58 142.85 L479.88 143.58 L481.18 144.29 L482.48 144.97 L483.78 145.62 L485.08 146.24 L486.38 146.83 L487.67 147.40 L488.97 147.94 L490.27 148.45 L491.57 148.94 L492.87 149.39 L494.17 149.82 L495.47 150.23 L496.77 150.61 L498.07 150.96 L499.37 151.29 L500.67 151.59 L501.97 151.87 L503.27 152.13 L504.57 152.35 L505.87 152.56 L507.17 152.74 L508.47 152.90 L509.77 153.03 L511.07 153.14 L512.37 153.23 L513.67 153.30 L514.97 153.34 L516.26 153.36 L517.56 153.36 L518.86 153.33 L520.16 153.29 L521.46 153.22 L522.76 153.13 L524.06 153.03 L525.36 152.90 L526.66 152.75 L527.96 152.58 L529.26 152.39 L530.56 152.18 L531.86 151.95 L533.16 151.70 L534.46 151.43 L535.76 151.14 L537.06 150.84 L538.36 150.51 L539.66 150.17 L540.96 149.81 L542.26 149.43 L543.56 149.03 L544.85 148.62 L546.15 148.19 L547.45 147.74 L548.75 147.27 L550.05 146.79 L551.35 146.29 L552.65 145.77 L553.95 145.24 L555.25 144.69 L556.55 144.12 L557.85 143.54 L559.15 142.95 L560.45 142.34 L561.75 141.71 L563.05 141.07 L564.35 140.41 L565.65 139.74 L566.95 139.05 L568.25 138.35 L569.55 137.64 L570.85 136.91 L572.15 136.17 L573.44 135.41 L574.74 134.64 L576.04 133.86 L577.34 133.06 L578.64 132.25 L579.94 131.43 L581.24 130.60 L582.54 129.75 L583.84 128.89 L585.14 128.02 L586.44 127.13 L587.74 126.23 L589.04 125.33 L590.34 124.41 L591.64 123.48 L592.94 122.53 L594.24 121.58 L595.54 120.61 L596.84 119.64 L598.14 118.65 L599.44 117.65 L600.74 116.65 L602.03 115.63 L603.33 114.60 L604.63 113.56 L605.93 112.51 L607.23 111.45 L608.53 110.38 L609.83 109.31 L611.13 108.22 L612.43 107.12 L613.73 106.02 L615.03 104.90 L616.33 103.78 L617.63 102.65 L618.93 101.51 L620.23 100.36 L621.53 99.20 L622.83 98.03 L624.13 96.86 L625.43 95.67 L626.73 94.48 L628.03 93.29 L629.33 92.08 L630.62 90.87 L631.92 89.65 L633.22 88.42 L634.52 87.18 L635.82 85.94 L637.12 84.69 L638.42 83.43 L639.72 82.17 L641.02 80.90 L642.32 79.62 L643.62 78.34 L644.92 77.05 L646.22 75.75 L647.52 74.45 L648.82 73.14 L650.12 71.83 L651.42 70.51 L652.72 69.19 L654.02 67.85 L655.32 66.52 L656.62 65.18 L657.92 63.83 L659.21 62.48 L660.51 61.12 L661.81 59.76 L663.11 58.39 L664.41 57.02 L665.71 55.64 L667.01 54.26 L668.31 52.87 L669.61 51.48 L670.91 50.09 L672.21 48.69 L673.51 47.29 L674.81 45.88 L676.11 44.47 L677.41 43.05 L678.71 41.63 L680.01 40.21 L681.31 38.78 L682.61 37.35 L683.91 35.92 L685.21 34.48 L686.51 33.04 L687.80 31.60 L689.10 30.15 L690.40 28.70 L691.70 27.25 L693.00 25.80 L694.30 24.34 L695.60 22.88 L696.90 21.41 L698.20 19.95 L699.50 18.48 L700.80 17.01" fill="none" stroke="#9b7fc8" stroke-width="1.95" clip-path="url(#clipb)"/>
<rect x="418.20" y="5.20" width="280.60" height="206.20" fill="none" stroke="#585858" stroke-width="1.7"/>
<text x="433.00" y="26.40" font-size="16.3" font-weight="bold">(b)</text>
<line x1="636.50" y1="138.20" x2="660.00" y2="138.20" stroke="#404040" stroke-width="1.95" stroke-dasharray="7.8 7.7"/>
<text x="661.60" y="141.60" font-size="9.8">SC</text>
<line x1="636.50" y1="150.40" x2="660.00" y2="150.40" stroke="#c93a4c" stroke-width="1.95" stroke-dasharray="8.5 4 2.5 5"/>
<text x="661.60" y="153.80" font-size="9.8">HCP</text>
<line x1="636.50" y1="162.60" x2="660.00" y2="162.60" stroke="#4066c2" stroke-width="1.95" stroke-dasharray="4 3"/>
<text x="661.60" y="166.00" font-size="9.8">FCC</text>
<line x1="636.50" y1="174.50" x2="660.00" y2="174.50" stroke="#4e9a5e" stroke-width="1.95" stroke-dasharray="7 4 2.3 4 2.3 4.5"/>
<text x="661.60" y="177.90" font-size="9.8">BCC</text>
<line x1="636.50" y1="186.20" x2="660.00" y2="186.20" stroke="#9b7fc8" stroke-width="1.95"/>
<text x="661.60" y="189.60" font-size="9.8">A7</text>
<text x="558.50" y="244.30" text-anchor="middle" font-size="11.7" font-weight="bold">Atomic volume(&#197;<tspan font-size="7.5" dy="-4.5">3</tspan><tspan dy="4.5">)</tspan></text>
<text transform="translate(377.40 101.50) rotate(-90)" text-anchor="middle" font-size="11.8" font-weight="bold">Cohesive energy (eV/atom)</text>
<clipPath id="clipc"><rect x="50.20" y="276.20" width="281.30" height="206.40"/></clipPath>
<line x1="71.84" y1="482.60" x2="71.84" y2="487.10" stroke="#585858" stroke-width="1.5"/>
<text x="71.84" y="498.40" text-anchor="middle" font-size="9.3">18</text>
<line x1="115.12" y1="482.60" x2="115.12" y2="487.10" stroke="#585858" stroke-width="1.5"/>
<text x="115.12" y="498.40" text-anchor="middle" font-size="9.3">20</text>
<line x1="158.39" y1="482.60" x2="158.39" y2="487.10" stroke="#585858" stroke-width="1.5"/>
<text x="158.39" y="498.40" text-anchor="middle" font-size="9.3">22</text>
<line x1="201.67" y1="482.60" x2="201.67" y2="487.10" stroke="#585858" stroke-width="1.5"/>
<text x="201.67" y="498.40" text-anchor="middle" font-size="9.3">24</text>
<line x1="244.95" y1="482.60" x2="244.95" y2="487.10" stroke="#585858" stroke-width="1.5"/>
<text x="244.95" y="498.40" text-anchor="middle" font-size="9.3">26</text>
<line x1="288.22" y1="482.60" x2="288.22" y2="487.10" stroke="#585858" stroke-width="1.5"/>
<text x="288.22" y="498.40" text-anchor="middle" font-size="9.3">28</text>
<line x1="331.50" y1="482.60" x2="331.50" y2="487.10" stroke="#585858" stroke-width="1.5"/>
<text x="331.50" y="498.40" text-anchor="middle" font-size="9.3">30</text>
<line x1="45.70" y1="276.20" x2="50.20" y2="276.20" stroke="#585858" stroke-width="1.5"/>
<text x="42.20" y="279.80" text-anchor="end" font-size="9.3">-0.35</text>
<line x1="45.70" y1="310.60" x2="50.20" y2="310.60" stroke="#585858" stroke-width="1.5"/>
<text x="42.20" y="314.20" text-anchor="end" font-size="9.3">-0.40</text>
<line x1="45.70" y1="345.00" x2="50.20" y2="345.00" stroke="#585858" stroke-width="1.5"/>
<text x="42.20" y="348.60" text-anchor="end" font-size="9.3">-0.45</text>
<line x1="45.70" y1="379.40" x2="50.20" y2="379.40" stroke="#585858" stroke-width="1.5"/>
<text x="42.20" y="383.00" text-anchor="end" font-size="9.3">-0.50</text>
<line x1="45.70" y1="413.80" x2="50.20" y2="413.80" stroke="#585858" stroke-width="1.5"/>
<text x="42.20" y="417.40" text-anchor="end" font-size="9.3">-0.55</text>
<line x1="45.70" y1="448.20" x2="50.20" y2="448.20" stroke="#585858" stroke-width="1.5"/>
<text x="42.20" y="451.80" text-anchor="end" font-size="9.3">-0.60</text>
<line x1="45.70" y1="482.60" x2="50.20" y2="482.60" stroke="#585858" stroke-width="1.5"/>
<text x="42.20" y="486.20" text-anchor="end" font-size="9.3">-0.65</text>
<path d="M167.50 274.85 L168.26 275.92 L169.02 276.98 L169.77 278.03 L170.53 279.06 L171.29 280.07 L172.05 281.07 L172.81 282.05 L173.56 283.02 L174.32 283.97 L175.08 284.91 L175.84 285.84 L176.60 286.74 L177.35 287.64 L178.11 288.52 L178.87 289.39 L179.63 290.24 L180.39 291.08 L181.14 291.91 L181.90 292.72 L182.66 293.52 L183.42 294.31 L184.18 295.09 L184.93 295.85 L185.69 296.60 L186.45 297.34 L187.21 298.06 L187.97 298.77 L188.72 299.47 L189.48 300.16 L190.24 300.84 L191.00 301.50 L191.76 302.16 L192.51 302.80 L193.27 303.43 L194.03 304.05 L194.79 304.66 L195.55 305.25 L196.30 305.84 L197.06 306.42 L197.82 306.98 L198.58 307.54 L199.34 308.08 L200.09 308.62 L200.85 309.14 L201.61 309.66 L202.37 310.16 L203.13 310.66 L203.88 311.14 L204.64 311.62 L205.40 312.08 L206.16 312.54 L206.92 312.99 L207.67 313.42 L208.43 313.85 L209.19 314.27 L209.95 314.69 L210.71 315.09 L211.46 315.48 L212.22 315.87 L212.98 316.24 L213.74 316.61 L214.50 316.97 L215.25 317.32 L216.01 317.67 L216.77 318.00 L217.53 318.33 L218.29 318.65 L219.04 318.96 L219.80 319.27 L220.56 319.57 L221.32 319.86 L222.08 320.14 L222.83 320.41 L223.59 320.68 L224.35 320.94 L225.11 321.19 L225.87 321.44 L226.62 321.68 L227.38 321.91 L228.14 322.14 L228.90 322.36 L229.66 322.57 L230.41 322.77 L231.17 322.97 L231.93 323.17 L232.69 323.35 L233.45 323.53 L234.20 323.71 L234.96 323.88 L235.72 324.04 L236.48 324.19 L237.24 324.34 L237.99 324.49 L238.75 324.63 L239.51 324.76 L240.27 324.89 L241.03 325.01 L241.78 325.12 L242.54 325.23 L243.30 325.34 L244.06 325.44 L244.82 325.53 L245.57 325.62 L246.33 325.71 L247.09 325.79 L247.85 325.86 L248.61 325.93 L249.36 325.99 L250.12 326.05 L250.88 326.11 L251.64 326.16 L252.39 326.20 L253.15 326.24 L253.91 326.28 L254.67 326.31 L255.43 326.34 L256.18 326.36 L256.94 326.38 L257.70 326.39 L258.46 326.40 L259.22 326.41 L259.97 326.41 L260.73 326.41 L261.49 326.40 L262.25 326.39 L263.01 326.37 L263.76 326.35 L264.52 326.33 L265.28 326.31 L266.04 326.28 L266.80 326.24 L267.55 326.20 L268.31 326.16 L269.07 326.12 L269.83 326.07 L270.59 326.02 L271.34 325.96 L272.10 325.91 L272.86 325.84 L273.62 325.78 L274.38 325.71 L275.13 325.64 L275.89 325.56 L276.65 325.48 L277.41 325.40 L278.17 325.32 L278.92 325.23 L279.68 325.14 L280.44 325.05 L281.20 324.95 L281.96 324.85 L282.71 324.75 L283.47 324.65 L284.23 324.54 L284.99 324.43 L285.75 324.32 L286.50 324.20 L287.26 324.08 L288.02 323.96 L288.78 323.84 L289.54 323.71 L290.29 323.58 L291.05 323.45 L291.81 323.32 L292.57 323.18 L293.33 323.05 L294.08 322.91 L294.84 322.76 L295.60 322.62 L296.36 322.47 L297.12 322.32 L297.87 322.17 L298.63 322.02 L299.39 321.86 L300.15 321.71 L300.91 321.55 L301.66 321.38 L302.42 321.22 L303.18 321.05 L303.94 320.89 L304.70 320.72 L305.45 320.55 L306.21 320.37 L306.97 320.20 L307.73 320.02 L308.49 319.84 L309.24 319.66 L310.00 319.48 L310.76 319.30 L311.52 319.11 L312.28 318.92 L313.03 318.74 L313.79 318.55 L314.55 318.35 L315.31 318.16 L316.07 317.97 L316.82 317.77 L317.58 317.57 L318.34 317.37 L319.10 317.17 L319.86 316.97 L320.61 316.77 L321.37 316.56 L322.13 316.36 L322.89 316.15 L323.65 315.94 L324.40 315.73 L325.16 315.52 L325.92 315.31 L326.68 315.09 L327.44 314.88 L328.19 314.66 L328.95 314.45 L329.71 314.23 L330.47 314.01 L331.23 313.79 L331.98 313.57 L332.74 313.35 L333.50 313.12" fill="none" stroke="#404040" stroke-width="1.95" stroke-dasharray="7.8 7.7" clip-path="url(#clipc)"/>
<path d="M48.20 398.28 L49.50 401.96 L50.81 405.51 L52.11 408.94 L53.41 412.25 L54.71 415.44 L56.02 418.52 L57.32 421.49 L58.62 424.35 L59.92 427.10 L61.23 429.75 L62.53 432.30 L63.83 434.76 L65.14 437.11 L66.44 439.38 L67.74 441.56 L69.04 443.65 L70.35 445.65 L71.65 447.57 L72.95 449.41 L74.25 451.16 L75.56 452.85 L76.86 454.45 L78.16 455.99 L79.47 457.45 L80.77 458.84 L82.07 460.17 L83.37 461.42 L84.68 462.62 L85.98 463.75 L87.28 464.82 L88.58 465.83 L89.89 466.79 L91.19 467.68 L92.49 468.52 L93.80 469.31 L95.10 470.05 L96.40 470.73 L97.70 471.37 L99.01 471.96 L100.31 472.50 L101.61 472.99 L102.92 473.44 L104.22 473.85 L105.52 474.21 L106.82 474.54 L108.13 474.82 L109.43 475.07 L110.73 475.27 L112.03 475.44 L113.34 475.57 L114.64 475.67 L115.94 475.74 L117.25 475.77 L118.55 475.77 L119.85 475.73 L121.15 475.67 L122.46 475.57 L123.76 475.45 L125.06 475.30 L126.36 475.12 L127.67 474.92 L128.97 474.69 L130.27 474.43 L131.58 474.15 L132.88 473.84 L134.18 473.52 L135.48 473.17 L136.79 472.79 L138.09 472.40 L139.39 471.98 L140.69 471.55 L142.00 471.09 L143.30 470.62 L144.60 470.13 L145.91 469.62 L147.21 469.09 L148.51 468.54 L149.81 467.98 L151.12 467.41 L152.42 466.81 L153.72 466.20 L155.02 465.58 L156.33 464.95 L157.63 464.29 L158.93 463.63 L160.24 462.95 L161.54 462.26 L162.84 461.56 L164.14 460.85 L165.45 460.12 L166.75 459.39 L168.05 458.64 L169.35 457.89 L170.66 457.12 L171.96 456.34 L173.26 455.56 L174.57 454.76 L175.87 453.96 L177.17 453.14 L178.47 452.32 L179.78 451.50 L181.08 450.66 L182.38 449.82 L183.68 448.97 L184.99 448.11 L186.29 447.24 L187.59 446.37 L188.90 445.50 L190.20 444.61 L191.50 443.73 L192.80 442.83 L194.11 441.93 L195.41 441.03 L196.71 440.12 L198.02 439.21 L199.32 438.29 L200.62 437.37 L201.92 436.45 L203.23 435.52 L204.53 434.58 L205.83 433.65 L207.13 432.71 L208.44 431.76 L209.74 430.82 L211.04 429.87 L212.35 428.92 L213.65 427.96 L214.95 427.00 L216.25 426.05 L217.56 425.08 L218.86 424.12 L220.16 423.16 L221.46 422.19 L222.77 421.22 L224.07 420.25 L225.37 419.28 L226.68 418.31 L227.98 417.34 L229.28 416.36 L230.58 415.39 L231.89 414.41 L233.19 413.43 L234.49 412.45 L235.79 411.48 L237.10 410.50 L238.40 409.52 L239.70 408.54 L241.01 407.56 L242.31 406.58 L243.61 405.60 L244.91 404.62 L246.22 403.64 L247.52 402.67 L248.82 401.69 L250.12 400.71 L251.43 399.73 L252.73 398.75 L254.03 397.78 L255.34 396.80 L256.64 395.83 L257.94 394.85 L259.24 393.88 L260.55 392.91 L261.85 391.94 L263.15 390.96 L264.45 389.99 L265.76 389.03 L267.06 388.06 L268.36 387.09 L269.67 386.13 L270.97 385.16 L272.27 384.20 L273.57 383.24 L274.88 382.28 L276.18 381.32 L277.48 380.37 L278.78 379.41 L280.09 378.46 L281.39 377.51 L282.69 376.56 L284.00 375.61 L285.30 374.66 L286.60 373.72 L287.90 372.78 L289.21 371.84 L290.51 370.90 L291.81 369.96 L293.12 369.02 L294.42 368.09 L295.72 367.16 L297.02 366.23 L298.33 365.30 L299.63 364.38 L300.93 363.45 L302.23 362.53 L303.54 361.61 L304.84 360.69 L306.14 359.78 L307.45 358.87 L308.75 357.95 L310.05 357.05 L311.35 356.14 L312.66 355.24 L313.96 354.33 L315.26 353.43 L316.56 352.54 L317.87 351.64 L319.17 350.75 L320.47 349.86 L321.78 348.97 L323.08 348.08 L324.38 347.20 L325.68 346.32 L326.99 345.44 L328.29 344.56 L329.59 343.69 L330.89 342.81 L332.20 341.94 L333.50 341.08" fill="none" stroke="#c93a4c" stroke-width="1.95" stroke-dasharray="8.5 4 2.5 5" clip-path="url(#clipc)"/>
<path d="M48.20 398.28 L49.50 401.96 L50.81 405.51 L52.11 408.94 L53.41 412.25 L54.71 415.44 L56.02 418.52 L57.32 421.49 L58.62 424.35 L59.92 427.10 L61.23 429.75 L62.53 432.30 L63.83 434.76 L65.14 437.11 L66.44 439.38 L67.74 441.56 L69.04 443.65 L70.35 445.65 L71.65 447.57 L72.95 449.41 L74.25 451.16 L75.56 452.85 L76.86 454.45 L78.16 455.99 L79.47 457.45 L80.77 458.84 L82.07 460.17 L83.37 461.42 L84.68 462.62 L85.98 463.75 L87.28 464.82 L88.58 465.83 L89.89 466.79 L91.19 467.68 L92.49 468.52 L93.80 469.31 L95.10 470.05 L96.40 470.73 L97.70 471.37 L99.01 471.96 L100.31 472.50 L101.61 472.99 L102.92 473.44 L104.22 473.85 L105.52 474.21 L106.82 474.54 L108.13 474.82 L109.43 475.07 L110.73 475.27 L112.03 475.44 L113.34 475.57 L114.64 475.67 L115.94 475.74 L117.25 475.77 L118.55 475.77 L119.85 475.73 L121.15 475.67 L122.46 475.57 L123.76 475.45 L125.06 475.30 L126.36 475.12 L127.67 474.92 L128.97 474.69 L130.27 474.43 L131.58 474.15 L132.88 473.84 L134.18 473.52 L135.48 473.17 L136.79 472.79 L138.09 472.40 L139.39 471.98 L140.69 471.55 L142.00 471.09 L143.30 470.62 L144.60 470.13 L145.91 469.62 L147.21 469.09 L148.51 468.54 L149.81 467.98 L151.12 467.41 L152.42 466.81 L153.72 466.20 L155.02 465.58 L156.33 464.95 L157.63 464.29 L158.93 463.63 L160.24 462.95 L161.54 462.26 L162.84 461.56 L164.14 460.85 L165.45 460.12 L166.75 459.39 L168.05 458.64 L169.35 457.89 L170.66 457.12 L171.96 456.34 L173.26 455.56 L174.57 454.76 L175.87 453.96 L177.17 453.14 L178.47 452.32 L179.78 451.50 L181.08 450.66 L182.38 449.82 L183.68 448.97 L184.99 448.11 L186.29 447.24 L187.59 446.37 L188.90 445.50 L190.20 444.61 L191.50 443.73 L192.80 442.83 L194.11 441.93 L195.41 441.03 L196.71 440.12 L198.02 439.21 L199.32 438.29 L200.62 437.37 L201.92 436.45 L203.23 435.52 L204.53 434.58 L205.83 433.65 L207.13 432.71 L208.44 431.76 L209.74 430.82 L211.04 429.87 L212.35 428.92 L213.65 427.96 L214.95 427.00 L216.25 426.05 L217.56 425.08 L218.86 424.12 L220.16 423.16 L221.46 422.19 L222.77 421.22 L224.07 420.25 L225.37 419.28 L226.68 418.31 L227.98 417.34 L229.28 416.36 L230.58 415.39 L231.89 414.41 L233.19 413.43 L234.49 412.45 L235.79 411.48 L237.10 410.50 L238.40 409.52 L239.70 408.54 L241.01 407.56 L242.31 406.58 L243.61 405.60 L244.91 404.62 L246.22 403.64 L247.52 402.67 L248.82 401.69 L250.12 400.71 L251.43 399.73 L252.73 398.75 L254.03 397.78 L255.34 396.80 L256.64 395.83 L257.94 394.85 L259.24 393.88 L260.55 392.91 L261.85 391.94 L263.15 390.96 L264.45 389.99 L265.76 389.03 L267.06 388.06 L268.36 387.09 L269.67 386.13 L270.97 385.16 L272.27 384.20 L273.57 383.24 L274.88 382.28 L276.18 381.32 L277.48 380.37 L278.78 379.41 L280.09 378.46 L281.39 377.51 L282.69 376.56 L284.00 375.61 L285.30 374.66 L286.60 373.72 L287.90 372.78 L289.21 371.84 L290.51 370.90 L291.81 369.96 L293.12 369.02 L294.42 368.09 L295.72 367.16 L297.02 366.23 L298.33 365.30 L299.63 364.38 L300.93 363.45 L302.23 362.53 L303.54 361.61 L304.84 360.69 L306.14 359.78 L307.45 358.87 L308.75 357.95 L310.05 357.05 L311.35 356.14 L312.66 355.24 L313.96 354.33 L315.26 353.43 L316.56 352.54 L317.87 351.64 L319.17 350.75 L320.47 349.86 L321.78 348.97 L323.08 348.08 L324.38 347.20 L325.68 346.32 L326.99 345.44 L328.29 344.56 L329.59 343.69 L330.89 342.81 L332.20 341.94 L333.50 341.08" fill="none" stroke="#4066c2" stroke-width="1.95" stroke-dasharray="4 3" clip-path="url(#clipc)"/>
<path d="M48.20 355.74 L49.50 359.95 L50.81 364.02 L52.11 367.98 L53.41 371.80 L54.71 375.51 L56.02 379.10 L57.32 382.57 L58.62 385.93 L59.92 389.18 L61.23 392.33 L62.53 395.37 L63.83 398.30 L65.14 401.14 L66.44 403.88 L67.74 406.52 L69.04 409.08 L70.35 411.54 L71.65 413.91 L72.95 416.20 L74.25 418.40 L75.56 420.52 L76.86 422.56 L78.16 424.52 L79.47 426.41 L80.77 428.22 L82.07 429.96 L83.37 431.63 L84.68 433.23 L85.98 434.76 L87.28 436.22 L88.58 437.62 L89.89 438.96 L91.19 440.24 L92.49 441.45 L93.80 442.61 L95.10 443.71 L96.40 444.75 L97.70 445.75 L99.01 446.68 L100.31 447.57 L101.61 448.40 L102.92 449.19 L104.22 449.93 L105.52 450.62 L106.82 451.26 L108.13 451.86 L109.43 452.42 L110.73 452.94 L112.03 453.41 L113.34 453.84 L114.64 454.23 L115.94 454.59 L117.25 454.91 L118.55 455.19 L119.85 455.43 L121.15 455.64 L122.46 455.82 L123.76 455.96 L125.06 456.07 L126.36 456.15 L127.67 456.20 L128.97 456.21 L130.27 456.20 L131.58 456.16 L132.88 456.10 L134.18 456.00 L135.48 455.88 L136.79 455.74 L138.09 455.57 L139.39 455.37 L140.69 455.15 L142.00 454.91 L143.30 454.64 L144.60 454.36 L145.91 454.05 L147.21 453.72 L148.51 453.37 L149.81 453.00 L151.12 452.61 L152.42 452.21 L153.72 451.78 L155.02 451.34 L156.33 450.88 L157.63 450.40 L158.93 449.91 L160.24 449.40 L161.54 448.88 L162.84 448.34 L164.14 447.79 L165.45 447.22 L166.75 446.64 L168.05 446.04 L169.35 445.43 L170.66 444.81 L171.96 444.18 L173.26 443.54 L174.57 442.88 L175.87 442.21 L177.17 441.54 L178.47 440.85 L179.78 440.15 L181.08 439.44 L182.38 438.72 L183.68 438.00 L184.99 437.26 L186.29 436.52 L187.59 435.76 L188.90 435.00 L190.20 434.23 L191.50 433.46 L192.80 432.67 L194.11 431.88 L195.41 431.08 L196.71 430.28 L198.02 429.47 L199.32 428.65 L200.62 427.83 L201.92 427.00 L203.23 426.17 L204.53 425.33 L205.83 424.48 L207.13 423.64 L208.44 422.78 L209.74 421.92 L211.04 421.06 L212.35 420.19 L213.65 419.32 L214.95 418.45 L216.25 417.57 L217.56 416.69 L218.86 415.81 L220.16 414.92 L221.46 414.03 L222.77 413.14 L224.07 412.24 L225.37 411.34 L226.68 410.44 L227.98 409.54 L229.28 408.63 L230.58 407.73 L231.89 406.82 L233.19 405.91 L234.49 405.00 L235.79 404.08 L237.10 403.17 L238.40 402.26 L239.70 401.34 L241.01 400.42 L242.31 399.50 L243.61 398.58 L244.91 397.66 L246.22 396.74 L247.52 395.82 L248.82 394.90 L250.12 393.98 L251.43 393.06 L252.73 392.14 L254.03 391.22 L255.34 390.30 L256.64 389.37 L257.94 388.45 L259.24 387.53 L260.55 386.61 L261.85 385.69 L263.15 384.77 L264.45 383.86 L265.76 382.94 L267.06 382.02 L268.36 381.10 L269.67 380.19 L270.97 379.28 L272.27 378.36 L273.57 377.45 L274.88 376.54 L276.18 375.63 L277.48 374.72 L278.78 373.82 L280.09 372.91 L281.39 372.01 L282.69 371.10 L284.00 370.20 L285.30 369.30 L286.60 368.40 L287.90 367.51 L289.21 366.61 L290.51 365.72 L291.81 364.83 L293.12 363.94 L294.42 363.05 L295.72 362.17 L297.02 361.29 L298.33 360.40 L299.63 359.53 L300.93 358.65 L302.23 357.77 L303.54 356.90 L304.84 356.03 L306.14 355.16 L307.45 354.29 L308.75 353.43 L310.05 352.57 L311.35 351.71 L312.66 350.85 L313.96 350.00 L315.26 349.15 L316.56 348.30 L317.87 347.45 L319.17 346.60 L320.47 345.76 L321.78 344.92 L323.08 344.08 L324.38 343.25 L325.68 342.42 L326.99 341.59 L328.29 340.76 L329.59 339.93 L330.89 339.11 L332.20 338.29 L333.50 337.48" fill="none" stroke="#9b7fc8" stroke-width="1.95" clip-path="url(#clipc)"/>
<rect x="50.20" y="276.20" width="281.30" height="206.40" fill="none" stroke="#585858" stroke-width="1.7"/>
<text x="62.70" y="298.80" font-size="16.3" font-weight="bold">(c)</text>
<line x1="247.20" y1="417.00" x2="269.60" y2="417.00" stroke="#404040" stroke-width="1.95" stroke-dasharray="7.8 7.7"/>
<text x="272.40" y="420.40" font-size="9.8">SC</text>
<line x1="247.20" y1="429.10" x2="269.60" y2="429.10" stroke="#c93a4c" stroke-width="1.95" stroke-dasharray="8.5 4 2.5 5"/>
<text x="272.40" y="432.50" font-size="9.8">HCP</text>
<line x1="247.20" y1="441.10" x2="269.60" y2="441.10" stroke="#4066c2" stroke-width="1.95" stroke-dasharray="4 3"/>
<text x="272.40" y="444.50" font-size="9.8">FCC</text>
<line x1="247.20" y1="452.70" x2="269.60" y2="452.70" stroke="#9b7fc8" stroke-width="1.95"/>
<text x="272.40" y="456.10" font-size="9.8">A7 (BCC)</text>
<text x="190.85" y="515.30" text-anchor="middle" font-size="11.7" font-weight="bold">Atomic volume(&#197;<tspan font-size="7.5" dy="-4.5">3</tspan><tspan dy="4.5">)</tspan></text>
<text transform="translate(9.50 372.30) rotate(-90)" text-anchor="middle" font-size="11.8" font-weight="bold">Cohesive energy (eV/atom)</text>
<clipPath id="clipd"><rect x="418.20" y="276.20" width="280.40" height="206.40"/></clipPath>
<line x1="418.20" y1="482.60" x2="418.20" y2="487.10" stroke="#585858" stroke-width="1.5"/>
<text x="418.20" y="498.40" text-anchor="middle" font-size="9.3">22</text>
<line x1="453.25" y1="482.60" x2="453.25" y2="487.10" stroke="#585858" stroke-width="1.5"/>
<text x="453.25" y="498.40" text-anchor="middle" font-size="9.3">24</text>
<line x1="488.30" y1="482.60" x2="488.30" y2="487.10" stroke="#585858" stroke-width="1.5"/>
<text x="488.30" y="498.40" text-anchor="middle" font-size="9.3">26</text>
<line x1="523.35" y1="482.60" x2="523.35" y2="487.10" stroke="#585858" stroke-width="1.5"/>
<text x="523.35" y="498.40" text-anchor="middle" font-size="9.3">28</text>
<line x1="558.40" y1="482.60" x2="558.40" y2="487.10" stroke="#585858" stroke-width="1.5"/>
<text x="558.40" y="498.40" text-anchor="middle" font-size="9.3">30</text>
<line x1="593.45" y1="482.60" x2="593.45" y2="487.10" stroke="#585858" stroke-width="1.5"/>
<text x="593.45" y="498.40" text-anchor="middle" font-size="9.3">32</text>
<line x1="628.50" y1="482.60" x2="628.50" y2="487.10" stroke="#585858" stroke-width="1.5"/>
<text x="628.50" y="498.40" text-anchor="middle" font-size="9.3">34</text>
<line x1="663.55" y1="482.60" x2="663.55" y2="487.10" stroke="#585858" stroke-width="1.5"/>
<text x="663.55" y="498.40" text-anchor="middle" font-size="9.3">36</text>
<line x1="698.60" y1="482.60" x2="698.60" y2="487.10" stroke="#585858" stroke-width="1.5"/>
<text x="698.60" y="498.40" text-anchor="middle" font-size="9.3">38</text>
<line x1="413.70" y1="276.20" x2="418.20" y2="276.20" stroke="#585858" stroke-width="1.5"/>
<text x="410.20" y="279.80" text-anchor="end" font-size="9.3">-0.30</text>
<line x1="413.70" y1="304.35" x2="418.20" y2="304.35" stroke="#585858" stroke-width="1.5"/>
<text x="410.20" y="307.95" text-anchor="end" font-size="9.3">-0.33</text>
<line x1="413.70" y1="332.49" x2="418.20" y2="332.49" stroke="#585858" stroke-width="1.5"/>
<text x="410.20" y="336.09" text-anchor="end" font-size="9.3">-0.36</text>
<line x1="413.70" y1="360.64" x2="418.20" y2="360.64" stroke="#585858" stroke-width="1.5"/>
<text x="410.20" y="364.24" text-anchor="end" font-size="9.3">-0.39</text>
<line x1="413.70" y1="388.78" x2="418.20" y2="388.78" stroke="#585858" stroke-width="1.5"/>
<text x="410.20" y="392.38" text-anchor="end" font-size="9.3">-0.42</text>
<line x1="413.70" y1="416.93" x2="418.20" y2="416.93" stroke="#585858" stroke-width="1.5"/>
<text x="410.20" y="420.53" text-anchor="end" font-size="9.3">-0.45</text>
<line x1="413.70" y1="445.07" x2="418.20" y2="445.07" stroke="#585858" stroke-width="1.5"/>
<text x="410.20" y="448.67" text-anchor="end" font-size="9.3">-0.48</text>
<line x1="413.70" y1="473.22" x2="418.20" y2="473.22" stroke="#585858" stroke-width="1.5"/>
<text x="410.20" y="476.82" text-anchor="end" font-size="9.3">-0.51</text>
<path d="M566.00 279.66 L566.61 280.20 L567.23 280.72 L567.84 281.24 L568.46 281.75 L569.07 282.25 L569.69 282.75 L570.30 283.24 L570.92 283.72 L571.53 284.19 L572.15 284.66 L572.76 285.13 L573.38 285.58 L573.99 286.03 L574.60 286.47 L575.22 286.91 L575.83 287.34 L576.45 287.77 L577.06 288.18 L577.68 288.60 L578.29 289.00 L578.91 289.40 L579.52 289.79 L580.14 290.18 L580.75 290.56 L581.37 290.94 L581.98 291.31 L582.59 291.67 L583.21 292.03 L583.82 292.38 L584.44 292.73 L585.05 293.07 L585.67 293.41 L586.28 293.74 L586.90 294.06 L587.51 294.38 L588.13 294.70 L588.74 295.01 L589.36 295.31 L589.97 295.61 L590.58 295.90 L591.20 296.19 L591.81 296.47 L592.43 296.75 L593.04 297.02 L593.66 297.29 L594.27 297.55 L594.89 297.81 L595.50 298.07 L596.12 298.31 L596.73 298.56 L597.35 298.80 L597.96 299.03 L598.57 299.26 L599.19 299.49 L599.80 299.71 L600.42 299.92 L601.03 300.13 L601.65 300.34 L602.26 300.54 L602.88 300.74 L603.49 300.93 L604.11 301.12 L604.72 301.31 L605.34 301.49 L605.95 301.67 L606.56 301.84 L607.18 302.01 L607.79 302.17 L608.41 302.33 L609.02 302.49 L609.64 302.64 L610.25 302.79 L610.87 302.93 L611.48 303.07 L612.10 303.21 L612.71 303.34 L613.33 303.47 L613.94 303.60 L614.55 303.72 L615.17 303.84 L615.78 303.95 L616.40 304.06 L617.01 304.17 L617.63 304.27 L618.24 304.37 L618.86 304.47 L619.47 304.56 L620.09 304.65 L620.70 304.73 L621.32 304.82 L621.93 304.90 L622.54 304.97 L623.16 305.04 L623.77 305.11 L624.39 305.18 L625.00 305.24 L625.62 305.30 L626.23 305.36 L626.85 305.41 L627.46 305.46 L628.08 305.51 L628.69 305.55 L629.31 305.59 L629.92 305.63 L630.53 305.67 L631.15 305.70 L631.76 305.73 L632.38 305.76 L632.99 305.78 L633.61 305.80 L634.22 305.82 L634.84 305.83 L635.45 305.85 L636.07 305.85 L636.68 305.86 L637.29 305.87 L637.91 305.87 L638.52 305.87 L639.14 305.86 L639.75 305.86 L640.37 305.85 L640.98 305.84 L641.60 305.82 L642.21 305.81 L642.83 305.79 L643.44 305.77 L644.06 305.74 L644.67 305.72 L645.28 305.69 L645.90 305.66 L646.51 305.62 L647.13 305.59 L647.74 305.55 L648.36 305.51 L648.97 305.47 L649.59 305.42 L650.20 305.37 L650.82 305.33 L651.43 305.27 L652.05 305.22 L652.66 305.17 L653.27 305.11 L653.89 305.05 L654.50 304.99 L655.12 304.92 L655.73 304.86 L656.35 304.79 L656.96 304.72 L657.58 304.65 L658.19 304.57 L658.81 304.50 L659.42 304.42 L660.04 304.34 L660.65 304.26 L661.26 304.17 L661.88 304.09 L662.49 304.00 L663.11 303.91 L663.72 303.82 L664.34 303.73 L664.95 303.64 L665.57 303.54 L666.18 303.44 L666.80 303.34 L667.41 303.24 L668.03 303.14 L668.64 303.04 L669.25 302.93 L669.87 302.82 L670.48 302.71 L671.10 302.60 L671.71 302.49 L672.33 302.38 L672.94 302.26 L673.56 302.14 L674.17 302.03 L674.79 301.91 L675.40 301.78 L676.02 301.66 L676.63 301.54 L677.24 301.41 L677.86 301.28 L678.47 301.16 L679.09 301.03 L679.70 300.90 L680.32 300.76 L680.93 300.63 L681.55 300.49 L682.16 300.36 L682.78 300.22 L683.39 300.08 L684.01 299.94 L684.62 299.80 L685.23 299.65 L685.85 299.51 L686.46 299.36 L687.08 299.22 L687.69 299.07 L688.31 298.92 L688.92 298.77 L689.54 298.62 L690.15 298.47 L690.77 298.31 L691.38 298.16 L692.00 298.00 L692.61 297.85 L693.22 297.69 L693.84 297.53 L694.45 297.37 L695.07 297.21 L695.68 297.05 L696.30 296.88 L696.91 296.72 L697.53 296.55 L698.14 296.39 L698.76 296.22 L699.37 296.05 L699.99 295.88 L700.60 295.71" fill="none" stroke="#404040" stroke-width="1.95" stroke-dasharray="7.8 7.7" clip-path="url(#clipd)"/>
<path d="M416.20 383.41 L417.50 387.16 L418.80 390.79 L420.10 394.30 L421.39 397.69 L422.69 400.97 L423.99 404.13 L425.29 407.19 L426.59 410.14 L427.89 412.99 L429.19 415.73 L430.48 418.38 L431.78 420.93 L433.08 423.39 L434.38 425.75 L435.68 428.03 L436.98 430.22 L438.28 432.32 L439.58 434.34 L440.87 436.28 L442.17 438.15 L443.47 439.93 L444.77 441.64 L446.07 443.28 L447.37 444.84 L448.67 446.34 L449.96 447.76 L451.26 449.13 L452.56 450.42 L453.86 451.65 L455.16 452.83 L456.46 453.94 L457.76 454.99 L459.05 455.99 L460.35 456.93 L461.65 457.81 L462.95 458.64 L464.25 459.43 L465.55 460.16 L466.85 460.84 L468.15 461.47 L469.44 462.06 L470.74 462.60 L472.04 463.10 L473.34 463.55 L474.64 463.96 L475.94 464.33 L477.24 464.66 L478.53 464.95 L479.83 465.20 L481.13 465.42 L482.43 465.59 L483.73 465.74 L485.03 465.85 L486.33 465.92 L487.62 465.96 L488.92 465.97 L490.22 465.95 L491.52 465.90 L492.82 465.82 L494.12 465.71 L495.42 465.58 L496.72 465.41 L498.01 465.22 L499.31 465.00 L500.61 464.76 L501.91 464.50 L503.21 464.20 L504.51 463.89 L505.81 463.55 L507.10 463.20 L508.40 462.82 L509.70 462.42 L511.00 461.99 L512.30 461.55 L513.60 461.09 L514.90 460.61 L516.19 460.12 L517.49 459.60 L518.79 459.07 L520.09 458.52 L521.39 457.96 L522.69 457.38 L523.99 456.78 L525.28 456.17 L526.58 455.54 L527.88 454.90 L529.18 454.25 L530.48 453.58 L531.78 452.90 L533.08 452.21 L534.38 451.51 L535.67 450.79 L536.97 450.06 L538.27 449.33 L539.57 448.58 L540.87 447.82 L542.17 447.05 L543.47 446.27 L544.76 445.48 L546.06 444.68 L547.36 443.88 L548.66 443.06 L549.96 442.24 L551.26 441.40 L552.56 440.57 L553.85 439.72 L555.15 438.86 L556.45 438.00 L557.75 437.13 L559.05 436.26 L560.35 435.38 L561.65 434.49 L562.95 433.60 L564.24 432.70 L565.54 431.80 L566.84 430.89 L568.14 429.98 L569.44 429.06 L570.74 428.14 L572.04 427.21 L573.33 426.28 L574.63 425.34 L575.93 424.40 L577.23 423.46 L578.53 422.51 L579.83 421.56 L581.13 420.61 L582.42 419.65 L583.72 418.69 L585.02 417.73 L586.32 416.77 L587.62 415.80 L588.92 414.83 L590.22 413.86 L591.52 412.89 L592.81 411.91 L594.11 410.93 L595.41 409.95 L596.71 408.97 L598.01 407.99 L599.31 407.01 L600.61 406.03 L601.90 405.04 L603.20 404.05 L604.50 403.07 L605.80 402.08 L607.10 401.09 L608.40 400.10 L609.70 399.11 L610.99 398.12 L612.29 397.13 L613.59 396.14 L614.89 395.15 L616.19 394.16 L617.49 393.17 L618.79 392.18 L620.08 391.19 L621.38 390.20 L622.68 389.21 L623.98 388.22 L625.28 387.23 L626.58 386.24 L627.88 385.26 L629.18 384.27 L630.47 383.28 L631.77 382.30 L633.07 381.31 L634.37 380.33 L635.67 379.35 L636.97 378.37 L638.27 377.39 L639.56 376.41 L640.86 375.43 L642.16 374.45 L643.46 373.48 L644.76 372.50 L646.06 371.53 L647.36 370.56 L648.65 369.59 L649.95 368.62 L651.25 367.65 L652.55 366.69 L653.85 365.72 L655.15 364.76 L656.45 363.80 L657.75 362.84 L659.04 361.89 L660.34 360.93 L661.64 359.98 L662.94 359.03 L664.24 358.08 L665.54 357.13 L666.84 356.18 L668.13 355.24 L669.43 354.30 L670.73 353.36 L672.03 352.42 L673.33 351.48 L674.63 350.55 L675.93 349.62 L677.22 348.69 L678.52 347.76 L679.82 346.84 L681.12 345.92 L682.42 345.00 L683.72 344.08 L685.02 343.16 L686.32 342.25 L687.61 341.34 L688.91 340.43 L690.21 339.52 L691.51 338.62 L692.81 337.71 L694.11 336.81 L695.41 335.92 L696.70 335.02 L698.00 334.13 L699.30 333.24 L700.60 332.35" fill="none" stroke="#c93a4c" stroke-width="1.95" stroke-dasharray="8.5 4 2.5 5" clip-path="url(#clipd)"/>
<path d="M416.20 383.41 L417.50 387.16 L418.80 390.79 L420.10 394.30 L421.39 397.69 L422.69 400.97 L423.99 404.13 L425.29 407.19 L426.59 410.14 L427.89 412.99 L429.19 415.73 L430.48 418.38 L431.78 420.93 L433.08 423.39 L434.38 425.75 L435.68 428.03 L436.98 430.22 L438.28 432.32 L439.58 434.34 L440.87 436.28 L442.17 438.15 L443.47 439.93 L444.77 441.64 L446.07 443.28 L447.37 444.84 L448.67 446.34 L449.96 447.76 L451.26 449.13 L452.56 450.42 L453.86 451.65 L455.16 452.83 L456.46 453.94 L457.76 454.99 L459.05 455.99 L460.35 456.93 L461.65 457.81 L462.95 458.64 L464.25 459.43 L465.55 460.16 L466.85 460.84 L468.15 461.47 L469.44 462.06 L470.74 462.60 L472.04 463.10 L473.34 463.55 L474.64 463.96 L475.94 464.33 L477.24 464.66 L478.53 464.95 L479.83 465.20 L481.13 465.42 L482.43 465.59 L483.73 465.74 L485.03 465.85 L486.33 465.92 L487.62 465.96 L488.92 465.97 L490.22 465.95 L491.52 465.90 L492.82 465.82 L494.12 465.71 L495.42 465.58 L496.72 465.41 L498.01 465.22 L499.31 465.00 L500.61 464.76 L501.91 464.50 L503.21 464.20 L504.51 463.89 L505.81 463.55 L507.10 463.20 L508.40 462.82 L509.70 462.42 L511.00 461.99 L512.30 461.55 L513.60 461.09 L514.90 460.61 L516.19 460.12 L517.49 459.60 L518.79 459.07 L520.09 458.52 L521.39 457.96 L522.69 457.38 L523.99 456.78 L525.28 456.17 L526.58 455.54 L527.88 454.90 L529.18 454.25 L530.48 453.58 L531.78 452.90 L533.08 452.21 L534.38 451.51 L535.67 450.79 L536.97 450.06 L538.27 449.33 L539.57 448.58 L540.87 447.82 L542.17 447.05 L543.47 446.27 L544.76 445.48 L546.06 444.68 L547.36 443.88 L548.66 443.06 L549.96 442.24 L551.26 441.40 L552.56 440.57 L553.85 439.72 L555.15 438.86 L556.45 438.00 L557.75 437.13 L559.05 436.26 L560.35 435.38 L561.65 434.49 L562.95 433.60 L564.24 432.70 L565.54 431.80 L566.84 430.89 L568.14 429.98 L569.44 429.06 L570.74 428.14 L572.04 427.21 L573.33 426.28 L574.63 425.34 L575.93 424.40 L577.23 423.46 L578.53 422.51 L579.83 421.56 L581.13 420.61 L582.42 419.65 L583.72 418.69 L585.02 417.73 L586.32 416.77 L587.62 415.80 L588.92 414.83 L590.22 413.86 L591.52 412.89 L592.81 411.91 L594.11 410.93 L595.41 409.95 L596.71 408.97 L598.01 407.99 L599.31 407.01 L600.61 406.03 L601.90 405.04 L603.20 404.05 L604.50 403.07 L605.80 402.08 L607.10 401.09 L608.40 400.10 L609.70 399.11 L610.99 398.12 L612.29 397.13 L613.59 396.14 L614.89 395.15 L616.19 394.16 L617.49 393.17 L618.79 392.18 L620.08 391.19 L621.38 390.20 L622.68 389.21 L623.98 388.22 L625.28 387.23 L626.58 386.24 L627.88 385.26 L629.18 384.27 L630.47 383.28 L631.77 382.30 L633.07 381.31 L634.37 380.33 L635.67 379.35 L636.97 378.37 L638.27 377.39 L639.56 376.41 L640.86 375.43 L642.16 374.45 L643.46 373.48 L644.76 372.50 L646.06 371.53 L647.36 370.56 L648.65 369.59 L649.95 368.62 L651.25 367.65 L652.55 366.69 L653.85 365.72 L655.15 364.76 L656.45 363.80 L657.75 362.84 L659.04 361.89 L660.34 360.93 L661.64 359.98 L662.94 359.03 L664.24 358.08 L665.54 357.13 L666.84 356.18 L668.13 355.24 L669.43 354.30 L670.73 353.36 L672.03 352.42 L673.33 351.48 L674.63 350.55 L675.93 349.62 L677.22 348.69 L678.52 347.76 L679.82 346.84 L681.12 345.92 L682.42 345.00 L683.72 344.08 L685.02 343.16 L686.32 342.25 L687.61 341.34 L688.91 340.43 L690.21 339.52 L691.51 338.62 L692.81 337.71 L694.11 336.81 L695.41 335.92 L696.70 335.02 L698.00 334.13 L699.30 333.24 L700.60 332.35" fill="none" stroke="#4066c2" stroke-width="1.95" stroke-dasharray="4 3" clip-path="url(#clipd)"/>
<path d="M416.20 337.89 L417.50 342.26 L418.80 346.50 L420.10 350.61 L421.39 354.60 L422.69 358.46 L423.99 362.20 L425.29 365.82 L426.59 369.33 L427.89 372.72 L429.19 376.01 L430.48 379.18 L431.78 382.26 L433.08 385.23 L434.38 388.11 L435.68 390.88 L436.98 393.56 L438.28 396.15 L439.58 398.65 L440.87 401.06 L442.17 403.39 L443.47 405.63 L444.77 407.79 L446.07 409.87 L447.37 411.87 L448.67 413.80 L449.96 415.65 L451.26 417.43 L452.56 419.14 L453.86 420.78 L455.16 422.35 L456.46 423.86 L457.76 425.30 L459.05 426.68 L460.35 427.99 L461.65 429.25 L462.95 430.45 L464.25 431.60 L465.55 432.68 L466.85 433.72 L468.15 434.70 L469.44 435.62 L470.74 436.50 L472.04 437.33 L473.34 438.11 L474.64 438.84 L475.94 439.53 L477.24 440.18 L478.53 440.78 L479.83 441.33 L481.13 441.85 L482.43 442.32 L483.73 442.76 L485.03 443.16 L486.33 443.52 L487.62 443.84 L488.92 444.13 L490.22 444.38 L491.52 444.60 L492.82 444.78 L494.12 444.93 L495.42 445.06 L496.72 445.15 L498.01 445.21 L499.31 445.24 L500.61 445.24 L501.91 445.21 L503.21 445.16 L504.51 445.08 L505.81 444.98 L507.10 444.85 L508.40 444.69 L509.70 444.51 L511.00 444.31 L512.30 444.08 L513.60 443.84 L514.90 443.57 L516.19 443.28 L517.49 442.97 L518.79 442.64 L520.09 442.29 L521.39 441.92 L522.69 441.53 L523.99 441.13 L525.28 440.71 L526.58 440.27 L527.88 439.81 L529.18 439.34 L530.48 438.85 L531.78 438.35 L533.08 437.83 L534.38 437.30 L535.67 436.75 L536.97 436.19 L538.27 435.62 L539.57 435.03 L540.87 434.43 L542.17 433.82 L543.47 433.20 L544.76 432.56 L546.06 431.92 L547.36 431.26 L548.66 430.59 L549.96 429.92 L551.26 429.23 L552.56 428.53 L553.85 427.82 L555.15 427.11 L556.45 426.38 L557.75 425.65 L559.05 424.91 L560.35 424.16 L561.65 423.40 L562.95 422.64 L564.24 421.86 L565.54 421.08 L566.84 420.30 L568.14 419.51 L569.44 418.71 L570.74 417.90 L572.04 417.09 L573.33 416.27 L574.63 415.45 L575.93 414.62 L577.23 413.79 L578.53 412.95 L579.83 412.11 L581.13 411.26 L582.42 410.41 L583.72 409.55 L585.02 408.69 L586.32 407.82 L587.62 406.95 L588.92 406.08 L590.22 405.21 L591.52 404.33 L592.81 403.44 L594.11 402.56 L595.41 401.67 L596.71 400.78 L598.01 399.89 L599.31 398.99 L600.61 398.09 L601.90 397.19 L603.20 396.29 L604.50 395.38 L605.80 394.47 L607.10 393.56 L608.40 392.65 L609.70 391.74 L610.99 390.83 L612.29 389.91 L613.59 389.00 L614.89 388.08 L616.19 387.16 L617.49 386.24 L618.79 385.32 L620.08 384.40 L621.38 383.47 L622.68 382.55 L623.98 381.63 L625.28 380.70 L626.58 379.78 L627.88 378.85 L629.18 377.93 L630.47 377.00 L631.77 376.08 L633.07 375.15 L634.37 374.22 L635.67 373.30 L636.97 372.37 L638.27 371.45 L639.56 370.52 L640.86 369.60 L642.16 368.67 L643.46 367.75 L644.76 366.83 L646.06 365.90 L647.36 364.98 L648.65 364.06 L649.95 363.14 L651.25 362.22 L652.55 361.30 L653.85 360.38 L655.15 359.46 L656.45 358.55 L657.75 357.63 L659.04 356.72 L660.34 355.80 L661.64 354.89 L662.94 353.98 L664.24 353.07 L665.54 352.16 L666.84 351.25 L668.13 350.34 L669.43 349.44 L670.73 348.54 L672.03 347.63 L673.33 346.73 L674.63 345.83 L675.93 344.93 L677.22 344.04 L678.52 343.14 L679.82 342.25 L681.12 341.36 L682.42 340.46 L683.72 339.58 L685.02 338.69 L686.32 337.80 L687.61 336.92 L688.91 336.04 L690.21 335.16 L691.51 334.28 L692.81 333.40 L694.11 332.52 L695.41 331.65 L696.70 330.78 L698.00 329.91 L699.30 329.04 L700.60 328.17" fill="none" stroke="#9b7fc8" stroke-width="1.95" clip-path="url(#clipd)"/>
<rect x="418.20" y="276.20" width="280.40" height="206.40" fill="none" stroke="#585858" stroke-width="1.7"/>
<text x="433.00" y="298.80" font-size="16.3" font-weight="bold">(d)</text>
<line x1="612.80" y1="415.70" x2="635.80" y2="415.70" stroke="#404040" stroke-width="1.95" stroke-dasharray="7.8 7.7"/>
<text x="638.00" y="419.10" font-size="9.8">SC</text>
<line x1="612.80" y1="427.50" x2="635.80" y2="427.50" stroke="#c93a4c" stroke-width="1.95" stroke-dasharray="8.5 4 2.5 5"/>
<text x="638.00" y="430.90" font-size="9.8">HCP</text>
<line x1="612.80" y1="439.80" x2="635.80" y2="439.80" stroke="#4066c2" stroke-width="1.95" stroke-dasharray="4 3"/>
<text x="638.00" y="443.20" font-size="9.8">FCC</text>
<line x1="612.80" y1="451.70" x2="635.80" y2="451.70" stroke="#9b7fc8" stroke-width="1.95"/>
<text x="638.00" y="455.10" font-size="9.8">A7 (BCC)</text>
<text x="558.40" y="515.30" text-anchor="middle" font-size="11.7" font-weight="bold">Atomic volume(&#197;<tspan font-size="7.5" dy="-4.5">3</tspan><tspan dy="4.5">)</tspan></text>
<text transform="translate(377.40 373.10) rotate(-90)" text-anchor="middle" font-size="11.8" font-weight="bold">Cohesive energy (eV/atom)</text>
</svg></body></html>
